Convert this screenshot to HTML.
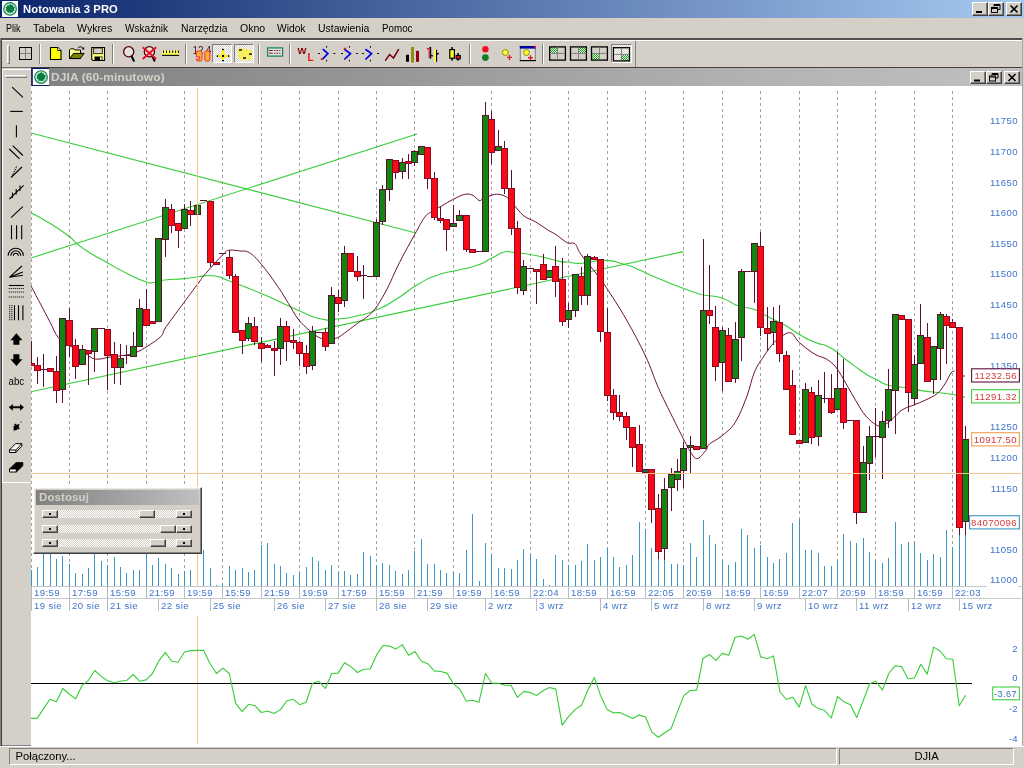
<!DOCTYPE html>
<html lang="pl">
<head>
<meta charset="utf-8">
<title>Notowania 3 PRO</title>
<style>
html,body{margin:0;padding:0;}
body{width:1024px;height:768px;overflow:hidden;background:#d4d0c8;position:relative;font-family:"Liberation Sans",sans-serif;font-size:11px;color:#000;}
.abs{position:absolute;}
#titlebar{left:0;top:0;width:1024px;height:18px;background:linear-gradient(90deg,#0a246a 0%,#a6caf0 100%);}
#titlebar .ttl{position:absolute;left:23px;top:2px;display:inline-block;transform-origin:0 0;transform:scaleX(0.975);color:#fff;font-weight:bold;font-size:11.5px;line-height:14px;white-space:nowrap;letter-spacing:0.1px;}
.wbtn{position:absolute;width:16px;height:14px;background:#d4d0c8;box-sizing:border-box;border:1px solid;border-color:#fff #404040 #404040 #fff;box-shadow:inset -1px -1px 0 #808080;}
#menubar{left:0;top:18px;width:1024px;height:20px;background:#d4d0c8;}
#menubar span{position:absolute;top:3px;display:inline-block;transform-origin:0 0;font-size:11.5px;line-height:14px;white-space:nowrap;}
#tbline1{left:0;top:38px;width:1022px;height:2px;background:#505050;}
#tbline2{left:2px;top:40px;width:1020px;height:1px;background:#fff;}
#toolbar{left:2px;top:41px;width:634px;height:26px;background:#d4d0c8;box-sizing:border-box;border-right:1px solid #808080;}
#tbline3{left:2px;top:67px;width:1020px;height:1.4px;background:#707070;}
.sep{position:absolute;top:44px;width:2px;height:20px;box-sizing:border-box;border-left:1px solid #808080;border-right:1px solid #fff;}
.pressed{position:absolute;top:44px;height:19px;box-sizing:border-box;border:1px solid;border-color:#808080 #fff #fff #808080;background-color:#d4d0c8;background-image:linear-gradient(45deg,#fff 25%,transparent 25%,transparent 75%,#fff 75%),linear-gradient(45deg,#fff 25%,transparent 25%,transparent 75%,#fff 75%);background-size:2px 2px;background-position:0 0,1px 1px;}
#leftedge{left:0;top:38px;width:2px;height:728px;background:#808080;border-right:1px solid #404040;box-sizing:border-box;}
#toolpanel{left:2px;top:68.6px;width:28.6px;height:414.4px;background:#d4d0c8;box-sizing:border-box;border-bottom:1px solid #fff;border-top:1px solid #fff;border-left:1px solid #fff;}
#childtitle{left:31px;top:67px;width:991px;height:19px;background:linear-gradient(90deg,#808080 0%,#9a9a9a 40%,#b4b4b4 75%,#c0c0c0 100%);border-top:1px solid #404040;box-sizing:border-box;}
#childtitle .ttl{position:absolute;left:20.3px;top:2px;display:inline-block;transform-origin:0 0;transform:scaleX(1.04);color:#d4d0c8;font-weight:bold;font-size:11.5px;line-height:14px;white-space:nowrap;letter-spacing:0.1px;}
#chartbg{left:31px;top:86px;width:991px;height:661px;background:#fff;}
#rightedge{left:1022px;top:38px;width:2px;height:710px;background:#d4d0c8;border-left:1px solid #a8a8a8;box-sizing:border-box;}
#statusbar{left:0;top:746px;width:1024px;height:22px;background:#d4d0c8;border-top:1px solid #fff;box-sizing:border-box;}
.sbp{position:absolute;top:0.5px;height:17px;box-sizing:border-box;border:1px solid;border-color:#808080 #fff #fff #808080;font-size:11.2px;line-height:15px;white-space:nowrap;}
#dost{left:33px;top:487px;width:169px;height:67px;background:#d4d0c8;box-sizing:border-box;border:1px solid;border-color:#fff #404040 #404040 #fff;box-shadow:inset -1px -1px 0 #808080, inset 1px 1px 0 #ece9e4;}
#dost .cap{position:absolute;left:2px;top:2px;width:163px;height:15px;background:linear-gradient(90deg,#808080,#c0c0c0);color:#d4d0c8;font-weight:bold;font-size:11.5px;line-height:14px;text-indent:3px;letter-spacing:0.1px;}
.trk{position:absolute;left:24px;width:119px;height:8px;background-color:#d4d0c8;background-image:linear-gradient(45deg,#fff 25%,transparent 25%,transparent 75%,#fff 75%),linear-gradient(45deg,#fff 25%,transparent 25%,transparent 75%,#fff 75%);background-size:2px 2px;background-position:0 0,1px 1px;}
.sb{position:absolute;width:16px;height:8px;background:#d4d0c8;box-sizing:border-box;border:1px solid;border-color:#fff #404040 #404040 #fff;box-shadow:inset -1px -1px 0 #808080;}
.sb i{position:absolute;left:6px;top:2px;width:2px;height:2px;background:#000;}
svg text.ax{font-family:"Liberation Sans",sans-serif;font-size:9.6px;letter-spacing:0.4px;fill:#3f74cc;}
svg text.bx{font-family:"Liberation Sans",sans-serif;}
svg{position:absolute;left:0;top:0;overflow:visible;}
</style>
</head>
<body>
<!-- main title bar -->
<div id="titlebar" class="abs">
  <svg width="19" height="19" viewBox="0 0 19 19" style="left:0;top:0"><rect x="2" y="1" width="16" height="16" fill="#fff"/><circle cx="10.05" cy="8.9" r="6.3" fill="#b8f0d8" stroke="#1c7c4c" stroke-width="1.2"/><path d="M10.3 3.7L11.5 5.3L13.0 5.1L13.0 6.6L15.2 7.5L13.9 9.1L14.5 10.7L12.8 10.9L12.9 12.7L11.2 12.3L10.3 13.2L9.1 12.3L7.5 12.7L7.3 11.0L5.8 10.6L6.3 8.9L5.6 7.1L7.1 6.6L7.3 5.2L8.9 5.4z" fill="#0c7a42"/></svg>
  <span class="ttl">Notowania 3 PRO</span>
  <div class="wbtn" style="left:972px;top:2px"><svg width="14" height="12" viewBox="0 0 14 12"><rect x="3" y="8" width="6" height="2" fill="#000"/></svg></div>
  <div class="wbtn" style="left:988px;top:2px"><svg width="14" height="12" viewBox="0 0 14 12"><path d="M5 1.500h6v5h-2M5 1.500v2M5.500 2.500h5" stroke="#000" stroke-width="1" fill="none"/><rect x="2.500" y="4.500" width="6" height="5" fill="none" stroke="#000"/><path d="M2.500 5.500h6" stroke="#000"/></svg></div>
  <div class="wbtn" style="left:1006px;top:2px"><svg width="14" height="12" viewBox="0 0 14 12"><path d="M3.500 2.500l7 7M10.500 2.500l-7 7" stroke="#000" stroke-width="1.6" fill="none"/></svg></div>
</div>
<!-- menu bar -->
<div id="menubar" class="abs">
  <span style="left:5.5px;transform:scaleX(0.784)">Plik</span><span style="left:32.5px;transform:scaleX(0.938)">Tabela</span><span style="left:76.75px;transform:scaleX(0.923)">Wykres</span><span style="left:125px;transform:scaleX(0.874)">Wskaźnik</span><span style="left:180.5px;transform:scaleX(0.898)">Narzędzia</span><span style="left:239.5px;transform:scaleX(0.918)">Okno</span><span style="left:276.75px;transform:scaleX(0.891)">Widok</span><span style="left:317.75px;transform:scaleX(0.912)">Ustawienia</span><span style="left:381.75px;transform:scaleX(0.852)">Pomoc</span>
</div>
<div id="tbline1" class="abs"></div>
<div id="tbline2" class="abs"></div>
<div id="leftedge" class="abs"></div>
<div id="rightedge" class="abs"></div>
<!-- toolbar -->
<div id="toolbar" class="abs"></div>
<div id="tbline3" class="abs"></div>
<div class="abs" style="left:7px;top:45px;width:3px;height:19px;box-sizing:border-box;border:1px solid;border-color:#fff #808080 #808080 #fff;"></div>
<div class="sep" style="left:39px"></div>
<div class="sep" style="left:112px"></div>
<div class="sep" style="left:185px"></div>
<div class="pressed" style="left:212px;width:20px"></div>
<div class="pressed" style="left:234px;width:20px"></div>
<div class="sep" style="left:258px"></div>
<div class="sep" style="left:289px"></div>
<div class="sep" style="left:469px"></div>
<div class="sep" style="left:542px"></div>
<div class="pressed" style="left:611px;width:21px"></div>
<!-- left tool panel -->
<div id="toolpanel" class="abs"></div>
<div class="abs" style="left:5px;top:75px;width:22px;height:3px;box-sizing:border-box;border:1px solid;border-color:#fff #808080 #808080 #fff;"></div>
<!-- toolbar icons -->
<svg id="tbicons" width="1024" height="768" viewBox="0 0 1024 768" style="pointer-events:none">
<defs>
<pattern id="gd" width="2" height="2" patternUnits="userSpaceOnUse"><rect width="2" height="2" fill="#e8f4e8"/><rect width="1" height="1" fill="#18a018"/><rect x="1" y="1" width="1" height="1" fill="#18a018"/></pattern>
</defs>
<!-- grid icon -->
<rect x="19.500" y="47.500" width="12" height="12" fill="none" stroke="#000" stroke-width="1"/><path d="M25.500 48v11M20 53.500h11" stroke="#808080" stroke-width="1"/>
<!-- new doc -->
<path d="M50.500 47.500h7.200l3.300 3v9h-10.500z" fill="#ffff00" stroke="#000" stroke-width="1.100"/><path d="M57.700 47.500v3h3.300" fill="#fff" stroke="#000" stroke-width="0.900"/>
<!-- open folder -->
<path d="M69.500 58.500v-8.700l1-1h3.500l1 1.200h5.500v8.500z" fill="#ffff90" stroke="#000" stroke-width="1"/>
<path d="M69.700 58.600l3.800-5.200h10.600l-3.800 5.200z" fill="#808000" stroke="#000" stroke-width="1"/>
<path d="M77.800 48.200c1.500-1.900 4-1.900 5.300.3" fill="none" stroke="#000" stroke-width="1"/><path d="M84.200 46.800v2.600h-2.600z" fill="#000"/>
<!-- save -->
<path d="M91.700 47.500h12.800v13h-11.600l-1.200-1.200z" fill="#ffff80" stroke="#000" stroke-width="1.100"/>
<rect x="93.700" y="48" width="8.600" height="5.700" fill="#d4d0c8" stroke="#000" stroke-width="0.800"/>
<rect x="94.500" y="56.500" width="8" height="4" fill="#000"/><rect x="100" y="57.200" width="1.800" height="2.600" fill="#f0f0d0"/>
<!-- magnifier -->
<circle cx="128.700" cy="51.800" r="5.100" fill="#e6e2de" stroke="#500010" stroke-width="1.300"/><path d="M131.600 56.300l2.200 4.500" stroke="#000" stroke-width="2" stroke-linecap="round"/>
<!-- magnifier X -->
<circle cx="149.400" cy="51.800" r="5.100" fill="#e6e2de" stroke="#500010" stroke-width="1.300"/><path d="M152.300 56.300l2.200 4.500" stroke="#000" stroke-width="2" stroke-linecap="round"/>
<path d="M142.700 47.300l13.500 11.600M156.200 47.300l-13.500 11.600" stroke="#e81020" stroke-width="2"/>
<!-- ruler -->
<rect x="162" y="50.500" width="17.200" height="4.500" fill="#ffff60"/><rect x="162" y="54.800" width="17.200" height="1.100" fill="#000"/>
<path d="M163.500 50.500v2.500M166.500 50.500v2.500M169.600 50.500v2.500M172.600 50.500v2.500M175.600 50.500v2.500M178.400 50.500v2.500" stroke="#000" stroke-width="1"/>
<!-- 124/90 -->
<text x="192.600" y="53.600" font-family="Liberation Sans,sans-serif" font-size="10" fill="#501020">1</text><text x="198" y="53.600" font-family="Liberation Sans,sans-serif" font-size="10" fill="#501020">2</text><text x="205.800" y="53.600" font-family="Liberation Sans,sans-serif" font-size="10" fill="#501020">4</text>
<path d="M197.800 51h2.700a1.500 1.500 0 0 1 1.500 1.500v7a1.500 1.500 0 0 1 -1.500 1.500h-2.700a1.500 1.500 0 0 1 -1.500 -1.500v-0.400h3.300v-2.300h-3.300v-4.300a1.500 1.500 0 0 1 1.500 -1.500z" fill="#ffb030" stroke="#f02020" stroke-width="0.900"/>
<rect x="204.800" y="51" width="5" height="10" rx="1.500" fill="#ffb030" stroke="#f02020" stroke-width="0.900"/>
<!-- pressed 1: cross -->
<ellipse cx="223" cy="55.200" rx="1.500" ry="5.800" fill="#ffee10"/><ellipse cx="223" cy="56" rx="5.800" ry="1.500" fill="#ffee10"/><path d="M223 52.500l2.500 3.500-2.500 3-2.500-3z" fill="#ffee10"/>
<rect x="222" y="55" width="2" height="2" fill="#000"/><rect x="222" y="48.800" width="2" height="1.300" fill="#201000"/><rect x="222" y="60" width="2" height="1.300" fill="#201000"/><rect x="216.800" y="55.200" width="1.300" height="1.800" fill="#201000"/><rect x="228" y="55.200" width="1.300" height="1.800" fill="#201000"/>
<!-- pressed 2 -->
<path d="M238 48.500h8l2 1.500h4v4l-1 2 1 1.500v2.500h-12l-1-2-1-3z" fill="#f4f060"/>
<rect x="239" y="49.200" width="3" height="1.500" fill="#301000"/><rect x="249" y="53.300" width="3" height="1.500" fill="#301000"/><rect x="243" y="57.200" width="3" height="1.600" fill="#301000"/>
<!-- table icon -->
<rect x="267.600" y="47.900" width="15" height="8.200" fill="#d8e8e0" stroke="#208060" stroke-width="1.300"/>
<path d="M269 50.500h3.800M274 50.500h1.400M276.400 50.500h1.800M279.200 50.500h1.200M269 53.200h3.800M274 53.200h1.400M276.400 53.200h1.800M279.200 53.200h1.200" stroke="#901020" stroke-width="1"/>
<!-- W L -->
<text x="297.600" y="53.600" font-family="Liberation Sans,sans-serif" font-weight="bold" font-size="9.500" fill="#800000">W</text>
<text x="307.400" y="60.800" font-family="Liberation Sans,sans-serif" font-weight="bold" font-size="10" fill="#f01010">L</text>
<!-- chevrons -->
<g fill="#000"><rect x="326.100" y="46" width="1" height="1.600"/><rect x="326.100" y="59.800" width="1" height="1.600"/><rect x="318" y="53" width="1.800" height="1"/><rect x="333.400" y="53" width="1.800" height="1"/>
<rect x="348.900" y="46" width="1" height="1.600"/><rect x="348.900" y="59.800" width="1" height="1.600"/><rect x="341.200" y="53" width="1.800" height="1"/><rect x="356.200" y="53" width="1.800" height="1"/>
<rect x="370" y="46" width="1" height="1.600"/><rect x="370" y="59.800" width="1" height="1.600"/><rect x="362" y="53" width="1.800" height="1"/><rect x="377.200" y="53" width="1.800" height="1"/></g>
<path d="M322.800 49.200l5.100 4.400-5.100 5.300M344.300 49.200l6.200 4.400-6.200 5.900M365.400 49.200l6.200 4.400-6.200 5.900" fill="none" stroke="#0000e8" stroke-width="1.700"/>
<path d="M320.800 57.400v2.600h3z" fill="#f01010"/><path d="M343.800 50.200v-2.400h3z" fill="#f01010"/>
<!-- zigzag -->
<path d="M385.200 60.600l4.400-6.100 3.900 3.500 5.300-8.800" fill="none" stroke="#700010" stroke-width="1.500"/>
<!-- bars -->
<rect x="406" y="54.800" width="3" height="7" fill="#000"/><rect x="411" y="47" width="3" height="15.500" fill="#909010"/><rect x="416" y="50.900" width="3" height="10.900" fill="#900010"/>
<!-- ohlc -->
<rect x="429.400" y="47" width="1.800" height="11.600" fill="#000"/><rect x="427" y="48" width="2.600" height="1.500" fill="#f01030"/><rect x="428.400" y="49" width="1.200" height="9" fill="#f04050"/><rect x="431" y="55" width="1.800" height="1.500" fill="#000"/>
<rect x="434" y="49.800" width="2" height="12" fill="#ffff40"/><rect x="436" y="49.800" width="1.100" height="12" fill="#000"/><rect x="437" y="53" width="1.800" height="1.500" fill="#000"/>
<!-- candles icon -->
<rect x="451.300" y="47" width="1.600" height="13.700" fill="#000"/><rect x="449.800" y="49.600" width="4.600" height="8.600" fill="#ffff20" stroke="#000" stroke-width="1.200"/>
<rect x="457.300" y="53" width="1.600" height="7.700" fill="#000"/><rect x="456.100" y="55.500" width="4.200" height="3.400" fill="#f01818" stroke="#000" stroke-width="1.100"/>
<!-- traffic light -->
<circle cx="485.400" cy="49.300" r="3.200" fill="#f01020"/><circle cx="485.400" cy="57.600" r="3.400" fill="#108028"/>
<!-- yellow circle plus -->
<circle cx="505.400" cy="52.500" r="2.900" fill="#ffff30" stroke="#808000" stroke-width="0.900"/><path d="M507 57.400h5M509.500 54.900v5" stroke="#e02020" stroke-width="1.400"/>
<!-- window icon -->
<rect x="520.300" y="46.500" width="15" height="14" fill="#e2deda" stroke="#808080" stroke-width="1"/><rect x="519.800" y="46" width="16" height="2.600" fill="#0000a0"/><rect x="519.800" y="60" width="16" height="1.200" fill="#000"/><circle cx="535" cy="46.800" r="1.100" fill="#f01040"/>
<circle cx="526.500" cy="52.500" r="2.900" fill="#ffff30" stroke="#808000" stroke-width="0.900"/><path d="M528 57.700h5M530.500 55.200v5" stroke="#e02020" stroke-width="1.400"/>
<!-- 4 grid icons -->
<rect x="550" y="47" width="7.500" height="6.200" fill="url(#gd)"/><rect x="549.700" y="46.900" width="15.700" height="13.200" fill="none" stroke="#000" stroke-width="1.300"/><path d="M557.500 47.500v12M550.300 53.400h14.500" stroke="#808080" stroke-width="1"/>
<rect x="578.500" y="47" width="7.500" height="6.200" fill="url(#gd)"/><rect x="570.500" y="46.900" width="15.900" height="13.200" fill="none" stroke="#000" stroke-width="1.300"/><path d="M578.500 47.500v12M571.100 53.400h14.700" stroke="#808080" stroke-width="1"/>
<rect x="592" y="53.800" width="7.500" height="6" fill="url(#gd)"/><rect x="591.500" y="46.900" width="15.900" height="13.200" fill="none" stroke="#000" stroke-width="1.300"/><path d="M599.500 47.500v12M592.100 53.400h14.700" stroke="#808080" stroke-width="1"/>
<rect x="621.500" y="54.800" width="8" height="6" fill="url(#gd)"/><rect x="613.400" y="47.700" width="16.100" height="13.200" fill="none" stroke="#000" stroke-width="1.300"/><path d="M621.500 48.300v12M614 54.400h15" stroke="#808080" stroke-width="1"/>
<!-- LEFT TOOL ICONS -->
<g stroke="#000" stroke-width="1.100" fill="none">
<path d="M12.200 87.200l10.700 10.200"/>
<path d="M10.200 111.400h12.700"/>
<path d="M16.400 125.300v12"/>
<path d="M9.300 149l10.200 9.900M12.700 145.700l10.200 9.800"/>
<path d="M11 177.500l11-10.500"/><path d="M12.200 175.300l4.800-9.300" stroke-dasharray="1 1"/>
<path d="M9.300 199l14.400-13.600M12.500 192.500v5.500M16.200 189v5.500M20 185.500v5.500"/>
<path d="M11 217.600l11.900-11"/>
<path d="M11.500 225.300v14M16.600 225.300v14M21.700 225.300v14"/>
<path d="M8.200 255.800a7.600 7.600 0 0 1 15.200 0M10.800 255.800a5 5 0 0 1 10 0M13.300 255.800a2.500 2.500 0 0 1 5 0"/>
<path d="M9.300 277.300l12.700-11.300M9.300 277.300l13.600-5.400M9.300 277.300l13.600-2"/>
<path d="M8.800 285.500h15"/><path d="M8.800 288.500h15M8.800 292h15M8.800 297h15" stroke-dasharray="1 1"/>
<path d="M14.500 305.200v15M18.500 305.200v15M22.900 305.200v15"/><path d="M9.700 305.200v15M11.900 305.200v15" stroke-dasharray="1 1"/>
</g>
<path d="M16.400 333.300l6 7h-3v4.500h-6v-4.500h-3z" fill="#000"/>
<path d="M16.400 365.900l6-6.700h-3v-4.900h-6v4.900h-3z" fill="#000"/>
<text x="8.600" y="385.200" font-family="Liberation Sans,sans-serif" font-size="11.500" fill="#000" textLength="15.600" lengthAdjust="spacingAndGlyphs">abc</text>
<path d="M8.800 407.300l4-3.400v2.400h7.200v-2.400l4 3.400-4 3.400v-2.400h-7.200v2.400z" fill="#000"/>
<path d="M13.600 430.700v-5h1.500l-1-1.200 1.200-1 1.200 1.200 3-.7-.8 3 1 1.200-1 1.200-1.200-1.200v1.500z" fill="#000"/><rect x="20.700" y="421.700" width="1" height="1" fill="#000"/>
<path d="M9.500 450l6-6.300h6.300l-6 6.300zM9.500 450v2.500h6.300v-2.500M15.800 452.500l6-6.300v-2.500" fill="#fff" stroke="#000" stroke-width="1"/>
<path d="M9.500 469l6.500-6.300h6.800l-6.500 6.300zM22.800 462.700v3l-6.500 6.300v-3z" fill="#000" stroke="#000" stroke-width="1"/><path d="M9.500 469v3h6.800v-3z" fill="#fff" stroke="#000" stroke-width="1"/>

</svg>
<!-- child window -->
<div id="childtitle" class="abs">
  <svg width="19" height="19" viewBox="0 0 19 19" style="left:0;top:0"><rect x="0.3" y="0" width="17.9" height="17.900" fill="#0a1060"/><rect x="1.8" y="1" width="16.400" height="16" fill="#fff"/><circle cx="10.03" cy="9.03" r="6.3" fill="#b8f0d8" stroke="#1c7c4c" stroke-width="1.2"/><path d="M10.3 3.8L11.5 5.4L13.0 5.2L13.0 6.8L15.2 7.7L13.9 9.3L14.4 10.8L12.7 11.1L12.9 12.9L11.2 12.4L10.3 13.3L9.1 12.4L7.4 12.9L7.3 11.2L5.7 10.7L6.3 9.0L5.6 7.2L7.1 6.8L7.3 5.3L8.9 5.5z" fill="#0c7a42"/></svg>
  <span class="ttl">DJIA (60-minutowo)</span>
  <div class="wbtn" style="left:939px;top:3px;height:13px"><svg width="14" height="11" viewBox="0 0 14 11"><rect x="3" y="7.500" width="6" height="2" fill="#000"/></svg></div>
  <div class="wbtn" style="left:955px;top:3px;height:13px"><svg width="14" height="11" viewBox="0 0 14 11"><path d="M5 1.500h6v4.500h-2M5 1.500v2M5.500 2.500h5" stroke="#000" stroke-width="1" fill="none"/><rect x="2.500" y="4" width="6" height="5" fill="none" stroke="#000"/><path d="M2.500 5h6" stroke="#000"/></svg></div>
  <div class="wbtn" style="left:973px;top:3px;height:13px"><svg width="14" height="11" viewBox="0 0 14 11"><path d="M3.500 2l7 7M10.500 2l-7 7" stroke="#000" stroke-width="1.600" fill="none"/></svg></div>
</div>
<div id="chartbg" class="abs"></div>
<div class="abs" style="left:2px;top:745px;width:29px;height:1px;background:#808080"></div>
<svg id="chart" width="1024" height="768" viewBox="0 0 1024 768">
<defs><clipPath id="cc"><rect x="31" y="86" width="991" height="661"/></clipPath></defs>
<g clip-path="url(#cc)">
<line x1="31.5" y1="88" x2="31.5" y2="586" stroke="#a2a2a2" stroke-width="1" stroke-dasharray="3 3" stroke-dashoffset="3.400" shape-rendering="crispEdges"/>
<line x1="69.5" y1="88" x2="69.5" y2="586" stroke="#a2a2a2" stroke-width="1" stroke-dasharray="3 3" stroke-dashoffset="3.400" shape-rendering="crispEdges"/>
<line x1="107.5" y1="88" x2="107.5" y2="586" stroke="#a2a2a2" stroke-width="1" stroke-dasharray="3 3" stroke-dashoffset="3.400" shape-rendering="crispEdges"/>
<line x1="146.5" y1="88" x2="146.5" y2="586" stroke="#a2a2a2" stroke-width="1" stroke-dasharray="3 3" stroke-dashoffset="3.400" shape-rendering="crispEdges"/>
<line x1="184.5" y1="88" x2="184.5" y2="586" stroke="#a2a2a2" stroke-width="1" stroke-dasharray="3 3" stroke-dashoffset="3.400" shape-rendering="crispEdges"/>
<line x1="222.5" y1="88" x2="222.5" y2="586" stroke="#a2a2a2" stroke-width="1" stroke-dasharray="3 3" stroke-dashoffset="3.400" shape-rendering="crispEdges"/>
<line x1="261.5" y1="88" x2="261.5" y2="586" stroke="#a2a2a2" stroke-width="1" stroke-dasharray="3 3" stroke-dashoffset="3.400" shape-rendering="crispEdges"/>
<line x1="299.5" y1="88" x2="299.5" y2="586" stroke="#a2a2a2" stroke-width="1" stroke-dasharray="3 3" stroke-dashoffset="3.400" shape-rendering="crispEdges"/>
<line x1="338.5" y1="88" x2="338.5" y2="586" stroke="#a2a2a2" stroke-width="1" stroke-dasharray="3 3" stroke-dashoffset="3.400" shape-rendering="crispEdges"/>
<line x1="376.5" y1="88" x2="376.5" y2="586" stroke="#a2a2a2" stroke-width="1" stroke-dasharray="3 3" stroke-dashoffset="3.400" shape-rendering="crispEdges"/>
<line x1="414.5" y1="88" x2="414.5" y2="586" stroke="#a2a2a2" stroke-width="1" stroke-dasharray="3 3" stroke-dashoffset="3.400" shape-rendering="crispEdges"/>
<line x1="453.5" y1="88" x2="453.5" y2="586" stroke="#a2a2a2" stroke-width="1" stroke-dasharray="3 3" stroke-dashoffset="3.400" shape-rendering="crispEdges"/>
<line x1="491.5" y1="88" x2="491.5" y2="586" stroke="#a2a2a2" stroke-width="1" stroke-dasharray="3 3" stroke-dashoffset="3.400" shape-rendering="crispEdges"/>
<line x1="530.5" y1="88" x2="530.5" y2="586" stroke="#a2a2a2" stroke-width="1" stroke-dasharray="3 3" stroke-dashoffset="3.400" shape-rendering="crispEdges"/>
<line x1="568.5" y1="88" x2="568.5" y2="586" stroke="#a2a2a2" stroke-width="1" stroke-dasharray="3 3" stroke-dashoffset="3.400" shape-rendering="crispEdges"/>
<line x1="607.5" y1="88" x2="607.5" y2="586" stroke="#a2a2a2" stroke-width="1" stroke-dasharray="3 3" stroke-dashoffset="3.400" shape-rendering="crispEdges"/>
<line x1="645.5" y1="88" x2="645.5" y2="586" stroke="#a2a2a2" stroke-width="1" stroke-dasharray="3 3" stroke-dashoffset="3.400" shape-rendering="crispEdges"/>
<line x1="683.5" y1="88" x2="683.5" y2="586" stroke="#a2a2a2" stroke-width="1" stroke-dasharray="3 3" stroke-dashoffset="3.400" shape-rendering="crispEdges"/>
<line x1="722.5" y1="88" x2="722.5" y2="586" stroke="#a2a2a2" stroke-width="1" stroke-dasharray="3 3" stroke-dashoffset="3.400" shape-rendering="crispEdges"/>
<line x1="760.5" y1="88" x2="760.5" y2="586" stroke="#a2a2a2" stroke-width="1" stroke-dasharray="3 3" stroke-dashoffset="3.400" shape-rendering="crispEdges"/>
<line x1="799.5" y1="88" x2="799.5" y2="586" stroke="#a2a2a2" stroke-width="1" stroke-dasharray="3 3" stroke-dashoffset="3.400" shape-rendering="crispEdges"/>
<line x1="837.5" y1="88" x2="837.5" y2="586" stroke="#a2a2a2" stroke-width="1" stroke-dasharray="3 3" stroke-dashoffset="3.400" shape-rendering="crispEdges"/>
<line x1="875.5" y1="88" x2="875.5" y2="586" stroke="#a2a2a2" stroke-width="1" stroke-dasharray="3 3" stroke-dashoffset="3.400" shape-rendering="crispEdges"/>
<line x1="914.5" y1="88" x2="914.5" y2="586" stroke="#a2a2a2" stroke-width="1" stroke-dasharray="3 3" stroke-dashoffset="3.400" shape-rendering="crispEdges"/>
<line x1="952.5" y1="88" x2="952.5" y2="586" stroke="#a2a2a2" stroke-width="1" stroke-dasharray="3 3" stroke-dashoffset="3.400" shape-rendering="crispEdges"/>
<line x1="31.5" y1="586" x2="31.5" y2="570.0" stroke="#3a94c4" stroke-width="1" shape-rendering="crispEdges"/>
<line x1="37.5" y1="586" x2="37.5" y2="566.7" stroke="#3a94c4" stroke-width="1" shape-rendering="crispEdges"/>
<line x1="43.5" y1="586" x2="43.5" y2="548.1" stroke="#3a94c4" stroke-width="1" shape-rendering="crispEdges"/>
<line x1="50.5" y1="586" x2="50.5" y2="549.1" stroke="#3a94c4" stroke-width="1" shape-rendering="crispEdges"/>
<line x1="56.5" y1="586" x2="56.5" y2="558.9" stroke="#3a94c4" stroke-width="1" shape-rendering="crispEdges"/>
<line x1="62.5" y1="586" x2="62.5" y2="555.9" stroke="#3a94c4" stroke-width="1" shape-rendering="crispEdges"/>
<line x1="69.5" y1="586" x2="69.5" y2="564.1" stroke="#3a94c4" stroke-width="1" shape-rendering="crispEdges"/>
<line x1="75.5" y1="586" x2="75.5" y2="572.9" stroke="#3a94c4" stroke-width="1" shape-rendering="crispEdges"/>
<line x1="82.5" y1="586" x2="82.5" y2="574.1" stroke="#3a94c4" stroke-width="1" shape-rendering="crispEdges"/>
<line x1="88.5" y1="586" x2="88.5" y2="567.7" stroke="#3a94c4" stroke-width="1" shape-rendering="crispEdges"/>
<line x1="94.5" y1="586" x2="94.5" y2="548.1" stroke="#3a94c4" stroke-width="1" shape-rendering="crispEdges"/>
<line x1="101.5" y1="586" x2="101.5" y2="560.8" stroke="#3a94c4" stroke-width="1" shape-rendering="crispEdges"/>
<line x1="107.5" y1="586" x2="107.5" y2="564.7" stroke="#3a94c4" stroke-width="1" shape-rendering="crispEdges"/>
<line x1="114.5" y1="586" x2="114.5" y2="556.9" stroke="#3a94c4" stroke-width="1" shape-rendering="crispEdges"/>
<line x1="120.5" y1="586" x2="120.5" y2="566.7" stroke="#3a94c4" stroke-width="1" shape-rendering="crispEdges"/>
<line x1="126.5" y1="586" x2="126.5" y2="572.9" stroke="#3a94c4" stroke-width="1" shape-rendering="crispEdges"/>
<line x1="133.5" y1="586" x2="133.5" y2="569.6" stroke="#3a94c4" stroke-width="1" shape-rendering="crispEdges"/>
<line x1="139.5" y1="586" x2="139.5" y2="569.6" stroke="#3a94c4" stroke-width="1" shape-rendering="crispEdges"/>
<line x1="146.5" y1="586" x2="146.5" y2="547.1" stroke="#3a94c4" stroke-width="1" shape-rendering="crispEdges"/>
<line x1="152.5" y1="586" x2="152.5" y2="565.1" stroke="#3a94c4" stroke-width="1" shape-rendering="crispEdges"/>
<line x1="158.5" y1="586" x2="158.5" y2="557.9" stroke="#3a94c4" stroke-width="1" shape-rendering="crispEdges"/>
<line x1="165.5" y1="586" x2="165.5" y2="563.8" stroke="#3a94c4" stroke-width="1" shape-rendering="crispEdges"/>
<line x1="171.5" y1="586" x2="171.5" y2="567.7" stroke="#3a94c4" stroke-width="1" shape-rendering="crispEdges"/>
<line x1="178.5" y1="586" x2="178.5" y2="574.1" stroke="#3a94c4" stroke-width="1" shape-rendering="crispEdges"/>
<line x1="184.5" y1="586" x2="184.5" y2="571.0" stroke="#3a94c4" stroke-width="1" shape-rendering="crispEdges"/>
<line x1="190.5" y1="586" x2="190.5" y2="570.0" stroke="#3a94c4" stroke-width="1" shape-rendering="crispEdges"/>
<line x1="197.5" y1="586" x2="197.5" y2="552.0" stroke="#3a94c4" stroke-width="1" shape-rendering="crispEdges"/>
<line x1="203.5" y1="586" x2="203.5" y2="550.1" stroke="#3a94c4" stroke-width="1" shape-rendering="crispEdges"/>
<line x1="210.5" y1="586" x2="210.5" y2="567.7" stroke="#3a94c4" stroke-width="1" shape-rendering="crispEdges"/>
<line x1="216.5" y1="586" x2="216.5" y2="585.2" stroke="#3a94c4" stroke-width="1" shape-rendering="crispEdges"/>
<line x1="222.5" y1="586" x2="222.5" y2="583.8" stroke="#3a94c4" stroke-width="1" shape-rendering="crispEdges"/>
<line x1="229.5" y1="586" x2="229.5" y2="566.2" stroke="#3a94c4" stroke-width="1" shape-rendering="crispEdges"/>
<line x1="235.5" y1="586" x2="235.5" y2="570.1" stroke="#3a94c4" stroke-width="1" shape-rendering="crispEdges"/>
<line x1="242.5" y1="586" x2="242.5" y2="568.1" stroke="#3a94c4" stroke-width="1" shape-rendering="crispEdges"/>
<line x1="248.5" y1="586" x2="248.5" y2="572.0" stroke="#3a94c4" stroke-width="1" shape-rendering="crispEdges"/>
<line x1="254.5" y1="586" x2="254.5" y2="570.1" stroke="#3a94c4" stroke-width="1" shape-rendering="crispEdges"/>
<line x1="261.5" y1="586" x2="261.5" y2="545.1" stroke="#3a94c4" stroke-width="1" shape-rendering="crispEdges"/>
<line x1="267.5" y1="586" x2="267.5" y2="543.1" stroke="#3a94c4" stroke-width="1" shape-rendering="crispEdges"/>
<line x1="274.5" y1="586" x2="274.5" y2="564.2" stroke="#3a94c4" stroke-width="1" shape-rendering="crispEdges"/>
<line x1="280.5" y1="586" x2="280.5" y2="566.2" stroke="#3a94c4" stroke-width="1" shape-rendering="crispEdges"/>
<line x1="286.5" y1="586" x2="286.5" y2="573.4" stroke="#3a94c4" stroke-width="1" shape-rendering="crispEdges"/>
<line x1="293.5" y1="586" x2="293.5" y2="575.0" stroke="#3a94c4" stroke-width="1" shape-rendering="crispEdges"/>
<line x1="299.5" y1="586" x2="299.5" y2="572.0" stroke="#3a94c4" stroke-width="1" shape-rendering="crispEdges"/>
<line x1="306.5" y1="586" x2="306.5" y2="567.1" stroke="#3a94c4" stroke-width="1" shape-rendering="crispEdges"/>
<line x1="312.5" y1="586" x2="312.5" y2="557.4" stroke="#3a94c4" stroke-width="1" shape-rendering="crispEdges"/>
<line x1="318.5" y1="586" x2="318.5" y2="561.3" stroke="#3a94c4" stroke-width="1" shape-rendering="crispEdges"/>
<line x1="325.5" y1="586" x2="325.5" y2="570.1" stroke="#3a94c4" stroke-width="1" shape-rendering="crispEdges"/>
<line x1="331.5" y1="586" x2="331.5" y2="565.2" stroke="#3a94c4" stroke-width="1" shape-rendering="crispEdges"/>
<line x1="338.5" y1="586" x2="338.5" y2="572.0" stroke="#3a94c4" stroke-width="1" shape-rendering="crispEdges"/>
<line x1="344.5" y1="586" x2="344.5" y2="571.1" stroke="#3a94c4" stroke-width="1" shape-rendering="crispEdges"/>
<line x1="350.5" y1="586" x2="350.5" y2="575.0" stroke="#3a94c4" stroke-width="1" shape-rendering="crispEdges"/>
<line x1="357.5" y1="586" x2="357.5" y2="574.0" stroke="#3a94c4" stroke-width="1" shape-rendering="crispEdges"/>
<line x1="363.5" y1="586" x2="363.5" y2="552.1" stroke="#3a94c4" stroke-width="1" shape-rendering="crispEdges"/>
<line x1="370.5" y1="586" x2="370.5" y2="556.0" stroke="#3a94c4" stroke-width="1" shape-rendering="crispEdges"/>
<line x1="376.5" y1="586" x2="376.5" y2="565.2" stroke="#3a94c4" stroke-width="1" shape-rendering="crispEdges"/>
<line x1="382.5" y1="586" x2="382.5" y2="563.2" stroke="#3a94c4" stroke-width="1" shape-rendering="crispEdges"/>
<line x1="389.5" y1="586" x2="389.5" y2="565.2" stroke="#3a94c4" stroke-width="1" shape-rendering="crispEdges"/>
<line x1="395.5" y1="586" x2="395.5" y2="571.1" stroke="#3a94c4" stroke-width="1" shape-rendering="crispEdges"/>
<line x1="402.5" y1="586" x2="402.5" y2="574.0" stroke="#3a94c4" stroke-width="1" shape-rendering="crispEdges"/>
<line x1="408.5" y1="586" x2="408.5" y2="570.1" stroke="#3a94c4" stroke-width="1" shape-rendering="crispEdges"/>
<line x1="414.5" y1="586" x2="414.5" y2="550.9" stroke="#3a94c4" stroke-width="1" shape-rendering="crispEdges"/>
<line x1="421.5" y1="586" x2="421.5" y2="539.2" stroke="#3a94c4" stroke-width="1" shape-rendering="crispEdges"/>
<line x1="427.5" y1="586" x2="427.5" y2="564.2" stroke="#3a94c4" stroke-width="1" shape-rendering="crispEdges"/>
<line x1="434.5" y1="586" x2="434.5" y2="564.2" stroke="#3a94c4" stroke-width="1" shape-rendering="crispEdges"/>
<line x1="440.5" y1="586" x2="440.5" y2="570.1" stroke="#3a94c4" stroke-width="1" shape-rendering="crispEdges"/>
<line x1="446.5" y1="586" x2="446.5" y2="573.0" stroke="#3a94c4" stroke-width="1" shape-rendering="crispEdges"/>
<line x1="453.5" y1="586" x2="453.5" y2="572.0" stroke="#3a94c4" stroke-width="1" shape-rendering="crispEdges"/>
<line x1="459.5" y1="586" x2="459.5" y2="573.0" stroke="#3a94c4" stroke-width="1" shape-rendering="crispEdges"/>
<line x1="466.5" y1="586" x2="466.5" y2="550.2" stroke="#3a94c4" stroke-width="1" shape-rendering="crispEdges"/>
<line x1="472.5" y1="586" x2="472.5" y2="513.8" stroke="#3a94c4" stroke-width="1" shape-rendering="crispEdges"/>
<line x1="479.5" y1="586" x2="479.5" y2="580.8" stroke="#3a94c4" stroke-width="1" shape-rendering="crispEdges"/>
<line x1="485.5" y1="586" x2="485.5" y2="543.1" stroke="#3a94c4" stroke-width="1" shape-rendering="crispEdges"/>
<line x1="491.5" y1="586" x2="491.5" y2="554.5" stroke="#3a94c4" stroke-width="1" shape-rendering="crispEdges"/>
<line x1="498.5" y1="586" x2="498.5" y2="568.1" stroke="#3a94c4" stroke-width="1" shape-rendering="crispEdges"/>
<line x1="504.5" y1="586" x2="504.5" y2="568.1" stroke="#3a94c4" stroke-width="1" shape-rendering="crispEdges"/>
<line x1="511.5" y1="586" x2="511.5" y2="569.1" stroke="#3a94c4" stroke-width="1" shape-rendering="crispEdges"/>
<line x1="517.5" y1="586" x2="517.5" y2="560.3" stroke="#3a94c4" stroke-width="1" shape-rendering="crispEdges"/>
<line x1="523.5" y1="586" x2="523.5" y2="549.0" stroke="#3a94c4" stroke-width="1" shape-rendering="crispEdges"/>
<line x1="530.5" y1="586" x2="530.5" y2="553.9" stroke="#3a94c4" stroke-width="1" shape-rendering="crispEdges"/>
<line x1="536.5" y1="586" x2="536.5" y2="558.8" stroke="#3a94c4" stroke-width="1" shape-rendering="crispEdges"/>
<line x1="543.5" y1="586" x2="543.5" y2="578.9" stroke="#3a94c4" stroke-width="1" shape-rendering="crispEdges"/>
<line x1="549.5" y1="586" x2="549.5" y2="585.1" stroke="#3a94c4" stroke-width="1" shape-rendering="crispEdges"/>
<line x1="555.5" y1="586" x2="555.5" y2="554.8" stroke="#3a94c4" stroke-width="1" shape-rendering="crispEdges"/>
<line x1="562.5" y1="586" x2="562.5" y2="559.9" stroke="#3a94c4" stroke-width="1" shape-rendering="crispEdges"/>
<line x1="568.5" y1="586" x2="568.5" y2="565.2" stroke="#3a94c4" stroke-width="1" shape-rendering="crispEdges"/>
<line x1="575.5" y1="586" x2="575.5" y2="565.2" stroke="#3a94c4" stroke-width="1" shape-rendering="crispEdges"/>
<line x1="581.5" y1="586" x2="581.5" y2="561.3" stroke="#3a94c4" stroke-width="1" shape-rendering="crispEdges"/>
<line x1="587.5" y1="586" x2="587.5" y2="544.1" stroke="#3a94c4" stroke-width="1" shape-rendering="crispEdges"/>
<line x1="594.5" y1="586" x2="594.5" y2="559.9" stroke="#3a94c4" stroke-width="1" shape-rendering="crispEdges"/>
<line x1="600.5" y1="586" x2="600.5" y2="557.4" stroke="#3a94c4" stroke-width="1" shape-rendering="crispEdges"/>
<line x1="607.5" y1="586" x2="607.5" y2="548.2" stroke="#3a94c4" stroke-width="1" shape-rendering="crispEdges"/>
<line x1="613.5" y1="586" x2="613.5" y2="557.4" stroke="#3a94c4" stroke-width="1" shape-rendering="crispEdges"/>
<line x1="619.5" y1="586" x2="619.5" y2="567.1" stroke="#3a94c4" stroke-width="1" shape-rendering="crispEdges"/>
<line x1="626.5" y1="586" x2="626.5" y2="565.2" stroke="#3a94c4" stroke-width="1" shape-rendering="crispEdges"/>
<line x1="632.5" y1="586" x2="632.5" y2="555.0" stroke="#3a94c4" stroke-width="1" shape-rendering="crispEdges"/>
<line x1="639.5" y1="586" x2="639.5" y2="522.2" stroke="#3a94c4" stroke-width="1" shape-rendering="crispEdges"/>
<line x1="645.5" y1="586" x2="645.5" y2="529.1" stroke="#3a94c4" stroke-width="1" shape-rendering="crispEdges"/>
<line x1="651.5" y1="586" x2="651.5" y2="548.2" stroke="#3a94c4" stroke-width="1" shape-rendering="crispEdges"/>
<line x1="658.5" y1="586" x2="658.5" y2="552.5" stroke="#3a94c4" stroke-width="1" shape-rendering="crispEdges"/>
<line x1="664.5" y1="586" x2="664.5" y2="559.3" stroke="#3a94c4" stroke-width="1" shape-rendering="crispEdges"/>
<line x1="671.5" y1="586" x2="671.5" y2="564.2" stroke="#3a94c4" stroke-width="1" shape-rendering="crispEdges"/>
<line x1="677.5" y1="586" x2="677.5" y2="564.2" stroke="#3a94c4" stroke-width="1" shape-rendering="crispEdges"/>
<line x1="683.5" y1="586" x2="683.5" y2="565.2" stroke="#3a94c4" stroke-width="1" shape-rendering="crispEdges"/>
<line x1="690.5" y1="586" x2="690.5" y2="543.1" stroke="#3a94c4" stroke-width="1" shape-rendering="crispEdges"/>
<line x1="696.5" y1="586" x2="696.5" y2="557.4" stroke="#3a94c4" stroke-width="1" shape-rendering="crispEdges"/>
<line x1="703.5" y1="586" x2="703.5" y2="520.3" stroke="#3a94c4" stroke-width="1" shape-rendering="crispEdges"/>
<line x1="709.5" y1="586" x2="709.5" y2="535.3" stroke="#3a94c4" stroke-width="1" shape-rendering="crispEdges"/>
<line x1="715.5" y1="586" x2="715.5" y2="544.3" stroke="#3a94c4" stroke-width="1" shape-rendering="crispEdges"/>
<line x1="722.5" y1="586" x2="722.5" y2="559.9" stroke="#3a94c4" stroke-width="1" shape-rendering="crispEdges"/>
<line x1="728.5" y1="586" x2="728.5" y2="565.2" stroke="#3a94c4" stroke-width="1" shape-rendering="crispEdges"/>
<line x1="735.5" y1="586" x2="735.5" y2="562.3" stroke="#3a94c4" stroke-width="1" shape-rendering="crispEdges"/>
<line x1="741.5" y1="586" x2="741.5" y2="528.5" stroke="#3a94c4" stroke-width="1" shape-rendering="crispEdges"/>
<line x1="747.5" y1="586" x2="747.5" y2="535.3" stroke="#3a94c4" stroke-width="1" shape-rendering="crispEdges"/>
<line x1="754.5" y1="586" x2="754.5" y2="548.2" stroke="#3a94c4" stroke-width="1" shape-rendering="crispEdges"/>
<line x1="760.5" y1="586" x2="760.5" y2="545.3" stroke="#3a94c4" stroke-width="1" shape-rendering="crispEdges"/>
<line x1="767.5" y1="586" x2="767.5" y2="557.4" stroke="#3a94c4" stroke-width="1" shape-rendering="crispEdges"/>
<line x1="773.5" y1="586" x2="773.5" y2="563.2" stroke="#3a94c4" stroke-width="1" shape-rendering="crispEdges"/>
<line x1="779.5" y1="586" x2="779.5" y2="559.3" stroke="#3a94c4" stroke-width="1" shape-rendering="crispEdges"/>
<line x1="786.5" y1="586" x2="786.5" y2="553.1" stroke="#3a94c4" stroke-width="1" shape-rendering="crispEdges"/>
<line x1="792.5" y1="586" x2="792.5" y2="523.2" stroke="#3a94c4" stroke-width="1" shape-rendering="crispEdges"/>
<line x1="799.5" y1="586" x2="799.5" y2="519.3" stroke="#3a94c4" stroke-width="1" shape-rendering="crispEdges"/>
<line x1="805.5" y1="586" x2="805.5" y2="550.2" stroke="#3a94c4" stroke-width="1" shape-rendering="crispEdges"/>
<line x1="811.5" y1="586" x2="811.5" y2="550.2" stroke="#3a94c4" stroke-width="1" shape-rendering="crispEdges"/>
<line x1="818.5" y1="586" x2="818.5" y2="553.1" stroke="#3a94c4" stroke-width="1" shape-rendering="crispEdges"/>
<line x1="824.5" y1="586" x2="824.5" y2="566.2" stroke="#3a94c4" stroke-width="1" shape-rendering="crispEdges"/>
<line x1="831.5" y1="586" x2="831.5" y2="566.2" stroke="#3a94c4" stroke-width="1" shape-rendering="crispEdges"/>
<line x1="837.5" y1="586" x2="837.5" y2="559.9" stroke="#3a94c4" stroke-width="1" shape-rendering="crispEdges"/>
<line x1="843.5" y1="586" x2="843.5" y2="534.3" stroke="#3a94c4" stroke-width="1" shape-rendering="crispEdges"/>
<line x1="850.5" y1="586" x2="850.5" y2="541.2" stroke="#3a94c4" stroke-width="1" shape-rendering="crispEdges"/>
<line x1="856.5" y1="586" x2="856.5" y2="543.1" stroke="#3a94c4" stroke-width="1" shape-rendering="crispEdges"/>
<line x1="863.5" y1="586" x2="863.5" y2="538.2" stroke="#3a94c4" stroke-width="1" shape-rendering="crispEdges"/>
<line x1="869.5" y1="586" x2="869.5" y2="552.1" stroke="#3a94c4" stroke-width="1" shape-rendering="crispEdges"/>
<line x1="875.5" y1="586" x2="875.5" y2="559.9" stroke="#3a94c4" stroke-width="1" shape-rendering="crispEdges"/>
<line x1="882.5" y1="586" x2="882.5" y2="563.2" stroke="#3a94c4" stroke-width="1" shape-rendering="crispEdges"/>
<line x1="888.5" y1="586" x2="888.5" y2="558.0" stroke="#3a94c4" stroke-width="1" shape-rendering="crispEdges"/>
<line x1="895.5" y1="586" x2="895.5" y2="522.2" stroke="#3a94c4" stroke-width="1" shape-rendering="crispEdges"/>
<line x1="901.5" y1="586" x2="901.5" y2="544.3" stroke="#3a94c4" stroke-width="1" shape-rendering="crispEdges"/>
<line x1="908.5" y1="586" x2="908.5" y2="542.3" stroke="#3a94c4" stroke-width="1" shape-rendering="crispEdges"/>
<line x1="914.5" y1="586" x2="914.5" y2="542.3" stroke="#3a94c4" stroke-width="1" shape-rendering="crispEdges"/>
<line x1="920.5" y1="586" x2="920.5" y2="553.1" stroke="#3a94c4" stroke-width="1" shape-rendering="crispEdges"/>
<line x1="927.5" y1="586" x2="927.5" y2="559.9" stroke="#3a94c4" stroke-width="1" shape-rendering="crispEdges"/>
<line x1="933.5" y1="586" x2="933.5" y2="554.1" stroke="#3a94c4" stroke-width="1" shape-rendering="crispEdges"/>
<line x1="940.5" y1="586" x2="940.5" y2="557.0" stroke="#3a94c4" stroke-width="1" shape-rendering="crispEdges"/>
<line x1="946.5" y1="586" x2="946.5" y2="530.0" stroke="#3a94c4" stroke-width="1" shape-rendering="crispEdges"/>
<line x1="952.5" y1="586" x2="952.5" y2="547.0" stroke="#3a94c4" stroke-width="1" shape-rendering="crispEdges"/>
<line x1="959.5" y1="586" x2="959.5" y2="533.9" stroke="#3a94c4" stroke-width="1" shape-rendering="crispEdges"/>
<line x1="965.5" y1="586" x2="965.5" y2="522.2" stroke="#3a94c4" stroke-width="1" shape-rendering="crispEdges"/>
<line x1="31" y1="133" x2="416" y2="233" stroke="#38cc38" stroke-width="1.1"/>
<line x1="31" y1="258" x2="417" y2="134" stroke="#38cc38" stroke-width="1.1"/>
<line x1="31" y1="391.7" x2="683.5" y2="251.6" stroke="#38cc38" stroke-width="1.1"/>
<path d="M31.0 212.8C36.5 215.9 35.5 214.7 47.5 222.0C59.5 229.3 57.2 227.5 67.0 234.7C76.8 241.9 69.0 237.3 76.8 243.5C84.6 249.7 80.8 247.0 90.5 253.2C100.2 259.4 94.3 255.5 106.0 262.0C117.7 268.5 112.6 266.3 125.7 272.8C138.8 279.3 136.1 278.4 145.2 281.6C154.3 284.8 146.5 283.0 153.0 282.5C159.5 282.0 154.3 281.3 164.7 280.0C175.1 278.7 173.2 279.7 184.2 278.6C195.3 277.5 190.2 277.7 198.0 276.7C205.8 275.7 200.4 275.6 207.7 275.7C215.0 275.8 213.2 275.4 220.0 277.0C226.8 278.6 214.2 275.1 228.0 280.6C241.8 286.1 238.1 283.7 261.4 293.6C284.7 303.5 277.9 301.7 298.0 310.2C318.1 318.7 308.6 316.1 321.6 319.0C334.6 321.9 325.3 320.0 337.0 319.0C348.7 318.0 343.7 319.0 356.7 316.0C369.7 313.0 363.0 315.5 376.0 310.0C389.0 304.5 381.6 308.2 395.8 299.5C410.0 290.8 404.5 292.2 418.6 284.0C432.7 275.8 425.0 279.6 438.0 275.0C451.0 270.4 444.6 273.4 457.7 270.2C470.8 267.0 465.5 269.5 477.2 265.3C488.9 261.1 483.7 261.9 492.8 257.5C501.9 253.1 497.3 253.6 504.5 252.0C511.7 250.4 503.9 251.4 514.3 252.6C524.7 253.8 520.7 252.6 535.8 255.5C550.9 258.4 549.0 259.2 559.5 261.4C570.0 263.6 559.8 261.4 567.3 262.0C574.8 262.6 569.6 263.8 582.0 263.3C594.4 262.8 590.5 260.1 604.5 260.4C618.5 260.7 612.9 261.4 624.0 264.3C635.1 267.2 626.6 264.6 637.7 269.2C648.8 273.8 644.2 272.5 657.2 278.0C670.2 283.5 663.7 280.8 676.7 285.8C689.7 290.8 686.6 289.8 696.2 293.0C705.9 296.2 697.0 293.6 705.6 295.3C714.2 297.0 711.1 294.6 722.2 298.2C733.3 301.8 728.0 302.3 738.8 306.0C749.6 309.7 744.8 305.8 754.5 309.4C764.2 313.0 758.2 311.7 768.0 316.8C777.8 321.9 773.3 318.7 783.8 324.6C794.2 330.5 789.0 328.5 799.4 334.4C809.8 340.3 804.6 337.7 815.0 342.2C825.4 346.7 820.2 342.1 830.6 348.0C841.0 353.9 835.5 351.8 846.2 359.8C857.0 367.8 852.9 365.3 863.0 372.0C873.1 378.7 867.6 375.2 876.7 379.8C885.8 384.4 880.6 383.1 890.4 385.7C900.2 388.3 895.6 386.1 906.0 387.7C916.4 389.3 911.3 389.0 921.7 390.6C932.1 392.2 926.9 391.2 937.3 392.5C947.7 393.8 943.9 392.9 953.0 394.5C962.1 396.1 960.7 396.4 964.6 397.4" fill="none" stroke="#38cc38" stroke-width="1.1" stroke-linejoin="round"/>
<path d="M31.0 285.9C32.6 289.0 36.5 296.4 40.0 303.0C43.5 309.6 46.6 315.7 50.0 322.0C53.4 328.3 54.6 333.2 58.3 337.6C62.0 342.0 65.2 343.1 70.0 346.0C74.8 348.9 79.9 350.8 84.6 353.2C89.3 355.6 90.7 358.4 95.4 359.1C100.1 359.8 104.4 357.8 110.0 357.1C115.6 356.4 120.9 356.1 125.7 355.2C130.5 354.3 132.5 353.9 136.4 352.3C140.3 350.7 142.6 349.3 147.1 346.4C151.6 343.5 157.6 339.8 160.8 336.6C164.0 333.4 162.6 332.4 164.7 329.0C166.8 325.6 168.9 322.9 172.5 318.0C176.1 313.1 179.3 308.8 184.3 302.0C189.3 295.2 196.3 285.8 199.9 281.0C203.5 276.2 199.5 280.6 203.8 275.7C208.1 270.8 218.5 258.9 223.3 254.2C228.1 249.5 226.7 250.8 229.8 250.2C232.9 249.6 236.4 250.6 240.0 251.0C243.6 251.4 245.4 250.2 249.3 252.6C253.2 255.0 256.0 257.9 261.4 264.3C266.8 270.7 273.7 280.5 278.6 287.7C283.6 294.9 284.8 297.7 288.4 303.4C292.0 309.1 294.2 314.0 298.1 319.0C302.0 324.0 305.5 327.1 309.8 330.7C314.1 334.3 316.9 337.1 321.6 338.5C326.3 339.9 330.9 339.6 335.2 338.5C339.5 337.4 341.1 335.4 345.0 332.7C348.9 330.0 351.7 327.7 356.7 323.9C361.7 320.1 366.9 318.1 372.3 312.1C377.7 306.1 381.0 300.1 386.0 291.0C391.0 281.9 394.2 272.9 399.5 262.5C404.8 252.1 410.1 242.8 414.7 234.5C419.3 226.2 421.5 221.7 424.5 217.5C427.5 213.3 428.1 214.0 431.3 211.8C434.5 209.6 437.9 208.0 442.0 205.7C446.1 203.4 449.5 201.1 453.8 199.0C458.1 196.9 461.9 194.8 465.5 194.2C469.1 193.6 470.8 194.4 473.3 195.6C475.8 196.8 477.4 199.8 479.0 200.5C480.6 201.2 480.4 200.2 482.0 199.5C483.6 198.8 485.3 197.6 488.0 196.6C490.7 195.6 493.3 194.1 496.7 194.2C500.1 194.3 503.3 194.9 506.5 197.0C509.7 199.1 511.1 201.9 514.3 205.4C517.5 208.9 520.1 213.0 524.0 216.0C527.9 219.0 531.5 219.5 535.8 222.0C540.1 224.5 543.7 227.4 547.5 229.8C551.3 232.2 553.0 232.6 556.6 235.0C560.2 237.4 563.9 241.2 567.3 242.8C570.7 244.4 572.5 241.7 575.0 243.8C577.5 245.9 577.0 249.0 581.0 254.5C585.0 260.0 591.9 267.9 596.6 274.0C601.3 280.1 601.0 279.4 606.4 287.7C611.8 295.9 618.8 306.5 626.0 319.0C633.2 331.5 639.8 343.9 645.5 356.0C651.2 368.1 653.5 376.4 657.2 385.0C660.9 393.6 660.4 392.6 665.5 403.0C670.6 413.4 680.5 433.2 685.0 442.0C689.5 450.8 687.8 447.9 690.0 451.0C692.2 454.1 694.0 458.7 696.8 458.7C699.6 458.7 703.2 453.5 705.5 450.8C707.8 448.1 706.7 446.6 709.5 444.0C712.3 441.4 716.3 440.4 721.0 436.5C725.7 432.6 730.3 429.9 735.0 422.7C739.7 415.5 743.0 406.3 746.6 397.0C750.2 387.7 751.3 379.5 754.5 372.0C757.7 364.5 760.4 361.4 764.0 356.0C767.6 350.6 770.4 346.5 774.0 342.6C777.6 338.7 780.5 336.5 783.8 334.8C787.0 333.1 788.7 331.8 791.6 333.2C794.5 334.6 795.1 338.7 799.4 342.6C803.7 346.5 810.0 351.3 815.0 354.3C820.0 357.3 822.8 356.7 826.7 359.2C830.6 361.7 833.0 363.5 836.5 368.0C840.0 372.5 842.4 377.6 846.0 383.6C849.6 389.7 852.4 395.1 856.0 401.0C859.6 406.9 861.9 411.5 865.8 416.0C869.7 420.5 874.1 424.0 877.5 425.6C880.9 427.2 881.8 426.0 884.5 424.8C887.2 423.6 889.2 421.7 892.4 419.0C895.6 416.3 898.1 412.6 902.0 410.0C905.9 407.4 909.5 406.8 913.8 405.0C918.1 403.2 921.3 402.1 925.6 400.0C929.9 397.9 933.7 396.5 937.3 393.5C940.9 390.5 942.5 387.5 945.0 383.8C947.5 380.0 949.3 375.3 951.0 373.0C952.7 370.7 953.9 371.4 954.5 371.0" fill="none" stroke="#701038" stroke-width="1" stroke-linejoin="round"/>
<line x1="962" y1="376" x2="965" y2="376" stroke="#701038" stroke-width="1"/>
<line x1="31.5" y1="340.5" x2="31.5" y2="365.9" stroke="#5e1030" stroke-width="1" shape-rendering="crispEdges"/>
<rect x="28.5" y="363.5" width="6" height="2.0" fill="#fa0a14" stroke="#8a0a28" stroke-width="1"/>
<line x1="37.5" y1="357.1" x2="37.5" y2="383.5" stroke="#5e1030" stroke-width="1" shape-rendering="crispEdges"/>
<rect x="34.5" y="365.5" width="6" height="5.0" fill="#fa0a14" stroke="#8a0a28" stroke-width="1"/>
<line x1="43.5" y1="354.2" x2="43.5" y2="387.4" stroke="#5e1030" stroke-width="1" shape-rendering="crispEdges"/>
<rect x="40.0" y="369.0" width="7" height="1.0" fill="#5e1030"/>
<rect x="47.5" y="368.5" width="6" height="3.0" fill="#fa0a14" stroke="#8a0a28" stroke-width="1"/>
<line x1="56.5" y1="356.2" x2="56.5" y2="402.7" stroke="#5e1030" stroke-width="1" shape-rendering="crispEdges"/>
<rect x="53.5" y="371.5" width="6" height="19.0" fill="#fa0a14" stroke="#8a0a28" stroke-width="1"/>
<line x1="62.5" y1="318.5" x2="62.5" y2="403.4" stroke="#5e1030" stroke-width="1" shape-rendering="crispEdges"/>
<rect x="59.5" y="318.5" width="6" height="71.0" fill="#118611" stroke="#5e1030" stroke-width="1"/>
<line x1="69.5" y1="308.3" x2="69.5" y2="357.1" stroke="#5e1030" stroke-width="1" shape-rendering="crispEdges"/>
<rect x="66.5" y="320.5" width="6" height="25.0" fill="#fa0a14" stroke="#8a0a28" stroke-width="1"/>
<line x1="75.5" y1="338.6" x2="75.5" y2="378.6" stroke="#5e1030" stroke-width="1" shape-rendering="crispEdges"/>
<rect x="72.5" y="345.5" width="6" height="21.0" fill="#fa0a14" stroke="#8a0a28" stroke-width="1"/>
<line x1="82.5" y1="344.5" x2="82.5" y2="364.4" stroke="#5e1030" stroke-width="1" shape-rendering="crispEdges"/>
<rect x="79.5" y="349.5" width="6" height="15.0" fill="#118611" stroke="#5e1030" stroke-width="1"/>
<line x1="88.5" y1="350.3" x2="88.5" y2="384.5" stroke="#5e1030" stroke-width="1" shape-rendering="crispEdges"/>
<rect x="85.5" y="350.5" width="6" height="3.0" fill="#fa0a14" stroke="#8a0a28" stroke-width="1"/>
<line x1="94.5" y1="328.4" x2="94.5" y2="371.8" stroke="#5e1030" stroke-width="1" shape-rendering="crispEdges"/>
<rect x="91.5" y="328.5" width="6" height="23.0" fill="#118611" stroke="#5e1030" stroke-width="1"/>
<line x1="101.5" y1="327.5" x2="101.5" y2="328.8" stroke="#5e1030" stroke-width="1" shape-rendering="crispEdges"/>
<rect x="98.0" y="328.0" width="7" height="1.0" fill="#5e1030"/>
<line x1="107.5" y1="329.4" x2="107.5" y2="390.4" stroke="#5e1030" stroke-width="1" shape-rendering="crispEdges"/>
<rect x="104.5" y="329.5" width="6" height="26.0" fill="#fa0a14" stroke="#8a0a28" stroke-width="1"/>
<line x1="114.5" y1="341.5" x2="114.5" y2="383.5" stroke="#5e1030" stroke-width="1" shape-rendering="crispEdges"/>
<rect x="111.5" y="354.5" width="6" height="13.0" fill="#fa0a14" stroke="#8a0a28" stroke-width="1"/>
<line x1="120.5" y1="343.5" x2="120.5" y2="384.5" stroke="#5e1030" stroke-width="1" shape-rendering="crispEdges"/>
<rect x="117.5" y="358.5" width="6" height="9.0" fill="#118611" stroke="#5e1030" stroke-width="1"/>
<line x1="126.5" y1="344.5" x2="126.5" y2="364.4" stroke="#5e1030" stroke-width="1" shape-rendering="crispEdges"/>
<rect x="123.0" y="355.0" width="7" height="1.0" fill="#5e1030"/>
<line x1="133.5" y1="332.3" x2="133.5" y2="356.2" stroke="#5e1030" stroke-width="1" shape-rendering="crispEdges"/>
<rect x="130.5" y="346.5" width="6" height="10.0" fill="#118611" stroke="#5e1030" stroke-width="1"/>
<line x1="139.5" y1="299.1" x2="139.5" y2="346.4" stroke="#5e1030" stroke-width="1" shape-rendering="crispEdges"/>
<rect x="136.5" y="308.5" width="6" height="38.0" fill="#118611" stroke="#5e1030" stroke-width="1"/>
<line x1="146.5" y1="289.4" x2="146.5" y2="325.3" stroke="#5e1030" stroke-width="1" shape-rendering="crispEdges"/>
<rect x="143.5" y="309.5" width="6" height="16.0" fill="#fa0a14" stroke="#8a0a28" stroke-width="1"/>
<rect x="149.5" y="321.5" width="6" height="2.0" fill="#fa0a14" stroke="#8a0a28" stroke-width="1"/>
<rect x="155.5" y="238.5" width="6" height="83.0" fill="#118611" stroke="#5e1030" stroke-width="1"/>
<line x1="165.5" y1="199.1" x2="165.5" y2="256.6" stroke="#5e1030" stroke-width="1" shape-rendering="crispEdges"/>
<rect x="162.5" y="207.5" width="6" height="32.0" fill="#118611" stroke="#5e1030" stroke-width="1"/>
<line x1="171.5" y1="204.4" x2="171.5" y2="232.7" stroke="#5e1030" stroke-width="1" shape-rendering="crispEdges"/>
<rect x="168.5" y="209.5" width="6" height="16.0" fill="#fa0a14" stroke="#8a0a28" stroke-width="1"/>
<line x1="178.5" y1="223.4" x2="178.5" y2="248.0" stroke="#5e1030" stroke-width="1" shape-rendering="crispEdges"/>
<rect x="175.5" y="223.5" width="6" height="7.0" fill="#fa0a14" stroke="#8a0a28" stroke-width="1"/>
<line x1="184.5" y1="204.4" x2="184.5" y2="228.4" stroke="#5e1030" stroke-width="1" shape-rendering="crispEdges"/>
<rect x="181.5" y="209.5" width="6" height="19.0" fill="#118611" stroke="#5e1030" stroke-width="1"/>
<line x1="190.5" y1="200.5" x2="190.5" y2="225.9" stroke="#5e1030" stroke-width="1" shape-rendering="crispEdges"/>
<rect x="187.5" y="210.5" width="6" height="4.0" fill="#fa0a14" stroke="#8a0a28" stroke-width="1"/>
<line x1="197.5" y1="199.5" x2="197.5" y2="225.9" stroke="#5e1030" stroke-width="1" shape-rendering="crispEdges"/>
<rect x="194.5" y="205.5" width="6" height="9.0" fill="#118611" stroke="#5e1030" stroke-width="1"/>
<line x1="203.5" y1="200.5" x2="203.5" y2="201.1" stroke="#5e1030" stroke-width="1" shape-rendering="crispEdges"/>
<rect x="200.0" y="200.0" width="7" height="1.0" fill="#5e1030"/>
<line x1="210.5" y1="201.1" x2="210.5" y2="266.9" stroke="#5e1030" stroke-width="1" shape-rendering="crispEdges"/>
<rect x="207.5" y="201.5" width="6" height="61.0" fill="#fa0a14" stroke="#8a0a28" stroke-width="1"/>
<line x1="216.5" y1="262.0" x2="216.5" y2="264.6" stroke="#5e1030" stroke-width="1" shape-rendering="crispEdges"/>
<rect x="213.5" y="262.5" width="6" height="2.0" fill="#fa0a14" stroke="#8a0a28" stroke-width="1"/>
<line x1="222.5" y1="253.2" x2="222.5" y2="253.2" stroke="#5e1030" stroke-width="1" shape-rendering="crispEdges"/>
<rect x="219.0" y="253.0" width="7" height="1.0" fill="#5e1030"/>
<line x1="229.5" y1="249.6" x2="229.5" y2="278.9" stroke="#5e1030" stroke-width="1" shape-rendering="crispEdges"/>
<rect x="226.5" y="257.5" width="6" height="18.0" fill="#fa0a14" stroke="#8a0a28" stroke-width="1"/>
<line x1="235.5" y1="274.1" x2="235.5" y2="332.3" stroke="#5e1030" stroke-width="1" shape-rendering="crispEdges"/>
<rect x="232.5" y="276.5" width="6" height="56.0" fill="#fa0a14" stroke="#8a0a28" stroke-width="1"/>
<line x1="242.5" y1="330.3" x2="242.5" y2="353.8" stroke="#5e1030" stroke-width="1" shape-rendering="crispEdges"/>
<rect x="239.5" y="330.5" width="6" height="10.0" fill="#fa0a14" stroke="#8a0a28" stroke-width="1"/>
<line x1="248.5" y1="317.0" x2="248.5" y2="341.4" stroke="#5e1030" stroke-width="1" shape-rendering="crispEdges"/>
<rect x="245.5" y="323.5" width="6" height="15.0" fill="#118611" stroke="#5e1030" stroke-width="1"/>
<line x1="254.5" y1="317.0" x2="254.5" y2="345.4" stroke="#5e1030" stroke-width="1" shape-rendering="crispEdges"/>
<rect x="251.5" y="326.5" width="6" height="15.0" fill="#fa0a14" stroke="#8a0a28" stroke-width="1"/>
<line x1="261.5" y1="336.6" x2="261.5" y2="362.0" stroke="#5e1030" stroke-width="1" shape-rendering="crispEdges"/>
<rect x="258.5" y="343.5" width="6" height="5.0" fill="#fa0a14" stroke="#8a0a28" stroke-width="1"/>
<line x1="267.5" y1="344.4" x2="267.5" y2="348.3" stroke="#5e1030" stroke-width="1" shape-rendering="crispEdges"/>
<rect x="264.5" y="345.5" width="6" height="2.0" fill="#fa0a14" stroke="#8a0a28" stroke-width="1"/>
<line x1="274.5" y1="341.4" x2="274.5" y2="375.6" stroke="#5e1030" stroke-width="1" shape-rendering="crispEdges"/>
<rect x="271.5" y="348.5" width="6" height="2.0" fill="#fa0a14" stroke="#8a0a28" stroke-width="1"/>
<line x1="280.5" y1="318.0" x2="280.5" y2="364.9" stroke="#5e1030" stroke-width="1" shape-rendering="crispEdges"/>
<rect x="277.5" y="326.5" width="6" height="22.0" fill="#118611" stroke="#5e1030" stroke-width="1"/>
<line x1="286.5" y1="320.9" x2="286.5" y2="361.0" stroke="#5e1030" stroke-width="1" shape-rendering="crispEdges"/>
<rect x="283.5" y="326.5" width="6" height="15.0" fill="#fa0a14" stroke="#8a0a28" stroke-width="1"/>
<line x1="293.5" y1="328.8" x2="293.5" y2="349.3" stroke="#5e1030" stroke-width="1" shape-rendering="crispEdges"/>
<rect x="290.5" y="340.5" width="6" height="2.0" fill="#fa0a14" stroke="#8a0a28" stroke-width="1"/>
<line x1="299.5" y1="340.5" x2="299.5" y2="365.9" stroke="#5e1030" stroke-width="1" shape-rendering="crispEdges"/>
<rect x="296.5" y="342.5" width="6" height="11.0" fill="#fa0a14" stroke="#8a0a28" stroke-width="1"/>
<line x1="306.5" y1="345.4" x2="306.5" y2="373.7" stroke="#5e1030" stroke-width="1" shape-rendering="crispEdges"/>
<rect x="303.5" y="353.5" width="6" height="13.0" fill="#fa0a14" stroke="#8a0a28" stroke-width="1"/>
<line x1="312.5" y1="325.8" x2="312.5" y2="369.8" stroke="#5e1030" stroke-width="1" shape-rendering="crispEdges"/>
<rect x="309.5" y="331.5" width="6" height="34.0" fill="#118611" stroke="#5e1030" stroke-width="1"/>
<line x1="318.5" y1="332.3" x2="318.5" y2="332.3" stroke="#5e1030" stroke-width="1" shape-rendering="crispEdges"/>
<rect x="315.0" y="332.0" width="7" height="1.0" fill="#5e1030"/>
<line x1="325.5" y1="327.8" x2="325.5" y2="350.6" stroke="#5e1030" stroke-width="1" shape-rendering="crispEdges"/>
<rect x="322.5" y="332.5" width="6" height="14.0" fill="#fa0a14" stroke="#8a0a28" stroke-width="1"/>
<line x1="331.5" y1="287.3" x2="331.5" y2="343.0" stroke="#5e1030" stroke-width="1" shape-rendering="crispEdges"/>
<rect x="328.5" y="295.5" width="6" height="48.0" fill="#118611" stroke="#5e1030" stroke-width="1"/>
<line x1="338.5" y1="289.7" x2="338.5" y2="311.6" stroke="#5e1030" stroke-width="1" shape-rendering="crispEdges"/>
<rect x="335.5" y="297.5" width="6" height="6.0" fill="#fa0a14" stroke="#8a0a28" stroke-width="1"/>
<line x1="344.5" y1="246.3" x2="344.5" y2="306.9" stroke="#5e1030" stroke-width="1" shape-rendering="crispEdges"/>
<rect x="341.5" y="253.5" width="6" height="47.0" fill="#118611" stroke="#5e1030" stroke-width="1"/>
<line x1="350.5" y1="252.6" x2="350.5" y2="271.5" stroke="#5e1030" stroke-width="1" shape-rendering="crispEdges"/>
<rect x="347.5" y="253.5" width="6" height="18.0" fill="#fa0a14" stroke="#8a0a28" stroke-width="1"/>
<line x1="357.5" y1="256.1" x2="357.5" y2="280.9" stroke="#5e1030" stroke-width="1" shape-rendering="crispEdges"/>
<rect x="354.5" y="271.5" width="6" height="5.0" fill="#fa0a14" stroke="#8a0a28" stroke-width="1"/>
<line x1="363.5" y1="265.3" x2="363.5" y2="298.9" stroke="#5e1030" stroke-width="1" shape-rendering="crispEdges"/>
<rect x="360.0" y="275.0" width="7" height="1.0" fill="#5e1030"/>
<line x1="370.5" y1="276.6" x2="370.5" y2="276.6" stroke="#5e1030" stroke-width="1" shape-rendering="crispEdges"/>
<rect x="367.0" y="276.0" width="7" height="1.0" fill="#5e1030"/>
<line x1="376.5" y1="219.4" x2="376.5" y2="276.1" stroke="#5e1030" stroke-width="1" shape-rendering="crispEdges"/>
<rect x="373.5" y="222.5" width="6" height="54.0" fill="#118611" stroke="#5e1030" stroke-width="1"/>
<line x1="382.5" y1="185.2" x2="382.5" y2="224.9" stroke="#5e1030" stroke-width="1" shape-rendering="crispEdges"/>
<rect x="379.5" y="189.5" width="6" height="32.0" fill="#118611" stroke="#5e1030" stroke-width="1"/>
<line x1="389.5" y1="159.5" x2="389.5" y2="200.5" stroke="#5e1030" stroke-width="1" shape-rendering="crispEdges"/>
<rect x="386.5" y="159.5" width="6" height="30.0" fill="#118611" stroke="#5e1030" stroke-width="1"/>
<line x1="395.5" y1="160.4" x2="395.5" y2="179.0" stroke="#5e1030" stroke-width="1" shape-rendering="crispEdges"/>
<rect x="392.5" y="160.5" width="6" height="12.0" fill="#fa0a14" stroke="#8a0a28" stroke-width="1"/>
<line x1="402.5" y1="157.5" x2="402.5" y2="179.0" stroke="#5e1030" stroke-width="1" shape-rendering="crispEdges"/>
<rect x="399.5" y="162.5" width="6" height="9.0" fill="#118611" stroke="#5e1030" stroke-width="1"/>
<line x1="408.5" y1="154.2" x2="408.5" y2="178.6" stroke="#5e1030" stroke-width="1" shape-rendering="crispEdges"/>
<rect x="405.5" y="161.5" width="6" height="2.0" fill="#fa0a14" stroke="#8a0a28" stroke-width="1"/>
<line x1="414.5" y1="150.1" x2="414.5" y2="166.3" stroke="#5e1030" stroke-width="1" shape-rendering="crispEdges"/>
<rect x="411.5" y="151.5" width="6" height="11.0" fill="#118611" stroke="#5e1030" stroke-width="1"/>
<rect x="418.5" y="146.5" width="6" height="8.0" fill="#118611" stroke="#5e1030" stroke-width="1"/>
<line x1="427.5" y1="147.3" x2="427.5" y2="188.8" stroke="#5e1030" stroke-width="1" shape-rendering="crispEdges"/>
<rect x="424.5" y="147.5" width="6" height="31.0" fill="#fa0a14" stroke="#8a0a28" stroke-width="1"/>
<line x1="434.5" y1="172.1" x2="434.5" y2="220.0" stroke="#5e1030" stroke-width="1" shape-rendering="crispEdges"/>
<rect x="431.5" y="178.5" width="6" height="39.0" fill="#fa0a14" stroke="#8a0a28" stroke-width="1"/>
<line x1="440.5" y1="206.3" x2="440.5" y2="222.9" stroke="#5e1030" stroke-width="1" shape-rendering="crispEdges"/>
<rect x="437.5" y="218.5" width="6" height="2.0" fill="#fa0a14" stroke="#8a0a28" stroke-width="1"/>
<line x1="446.5" y1="219.4" x2="446.5" y2="250.7" stroke="#5e1030" stroke-width="1" shape-rendering="crispEdges"/>
<rect x="443.5" y="219.5" width="6" height="10.0" fill="#fa0a14" stroke="#8a0a28" stroke-width="1"/>
<line x1="453.5" y1="205.2" x2="453.5" y2="226.2" stroke="#5e1030" stroke-width="1" shape-rendering="crispEdges"/>
<rect x="450.5" y="223.5" width="6" height="3.0" fill="#118611" stroke="#5e1030" stroke-width="1"/>
<line x1="459.5" y1="210.2" x2="459.5" y2="221.4" stroke="#5e1030" stroke-width="1" shape-rendering="crispEdges"/>
<rect x="456.5" y="215.5" width="6" height="5.0" fill="#118611" stroke="#5e1030" stroke-width="1"/>
<line x1="466.5" y1="215.5" x2="466.5" y2="251.6" stroke="#5e1030" stroke-width="1" shape-rendering="crispEdges"/>
<rect x="463.5" y="215.5" width="6" height="34.0" fill="#fa0a14" stroke="#8a0a28" stroke-width="1"/>
<rect x="469.5" y="249.5" width="6" height="3.0" fill="#fa0a14" stroke="#8a0a28" stroke-width="1"/>
<line x1="479.5" y1="251.2" x2="479.5" y2="251.2" stroke="#5e1030" stroke-width="1" shape-rendering="crispEdges"/>
<rect x="476.0" y="251.0" width="7" height="1.0" fill="#5e1030"/>
<line x1="485.5" y1="102.4" x2="485.5" y2="251.2" stroke="#5e1030" stroke-width="1" shape-rendering="crispEdges"/>
<rect x="482.5" y="115.5" width="6" height="136.0" fill="#118611" stroke="#5e1030" stroke-width="1"/>
<line x1="491.5" y1="111.0" x2="491.5" y2="163.8" stroke="#5e1030" stroke-width="1" shape-rendering="crispEdges"/>
<rect x="488.5" y="119.5" width="6" height="33.0" fill="#fa0a14" stroke="#8a0a28" stroke-width="1"/>
<line x1="498.5" y1="130.2" x2="498.5" y2="150.3" stroke="#5e1030" stroke-width="1" shape-rendering="crispEdges"/>
<rect x="495.5" y="146.5" width="6" height="4.0" fill="#118611" stroke="#5e1030" stroke-width="1"/>
<line x1="504.5" y1="141.3" x2="504.5" y2="193.6" stroke="#5e1030" stroke-width="1" shape-rendering="crispEdges"/>
<rect x="501.5" y="148.5" width="6" height="40.0" fill="#fa0a14" stroke="#8a0a28" stroke-width="1"/>
<line x1="511.5" y1="170.2" x2="511.5" y2="234.6" stroke="#5e1030" stroke-width="1" shape-rendering="crispEdges"/>
<rect x="508.5" y="188.5" width="6" height="40.0" fill="#fa0a14" stroke="#8a0a28" stroke-width="1"/>
<line x1="517.5" y1="221.4" x2="517.5" y2="293.6" stroke="#5e1030" stroke-width="1" shape-rendering="crispEdges"/>
<rect x="514.5" y="228.5" width="6" height="59.0" fill="#fa0a14" stroke="#8a0a28" stroke-width="1"/>
<line x1="523.5" y1="260.4" x2="523.5" y2="294.6" stroke="#5e1030" stroke-width="1" shape-rendering="crispEdges"/>
<rect x="520.5" y="266.5" width="6" height="24.0" fill="#118611" stroke="#5e1030" stroke-width="1"/>
<line x1="530.5" y1="268.2" x2="530.5" y2="268.2" stroke="#5e1030" stroke-width="1" shape-rendering="crispEdges"/>
<rect x="527.0" y="268.0" width="7" height="1.0" fill="#5e1030"/>
<line x1="536.5" y1="269.2" x2="536.5" y2="304.4" stroke="#5e1030" stroke-width="1" shape-rendering="crispEdges"/>
<rect x="533.5" y="269.5" width="6" height="2.0" fill="#fa0a14" stroke="#8a0a28" stroke-width="1"/>
<line x1="543.5" y1="254.2" x2="543.5" y2="279.4" stroke="#5e1030" stroke-width="1" shape-rendering="crispEdges"/>
<rect x="540.5" y="264.5" width="6" height="15.0" fill="#fa0a14" stroke="#8a0a28" stroke-width="1"/>
<rect x="546.5" y="270.5" width="6" height="7.0" fill="#118611" stroke="#5e1030" stroke-width="1"/>
<line x1="555.5" y1="246.3" x2="555.5" y2="296.5" stroke="#5e1030" stroke-width="1" shape-rendering="crispEdges"/>
<rect x="552.5" y="266.5" width="6" height="15.0" fill="#fa0a14" stroke="#8a0a28" stroke-width="1"/>
<line x1="562.5" y1="258.4" x2="562.5" y2="325.8" stroke="#5e1030" stroke-width="1" shape-rendering="crispEdges"/>
<rect x="559.5" y="279.5" width="6" height="42.0" fill="#fa0a14" stroke="#8a0a28" stroke-width="1"/>
<line x1="568.5" y1="303.4" x2="568.5" y2="328.4" stroke="#5e1030" stroke-width="1" shape-rendering="crispEdges"/>
<rect x="565.5" y="310.5" width="6" height="9.0" fill="#118611" stroke="#5e1030" stroke-width="1"/>
<line x1="575.5" y1="274.6" x2="575.5" y2="317.0" stroke="#5e1030" stroke-width="1" shape-rendering="crispEdges"/>
<rect x="572.5" y="274.5" width="6" height="36.0" fill="#118611" stroke="#5e1030" stroke-width="1"/>
<line x1="581.5" y1="267.2" x2="581.5" y2="305.3" stroke="#5e1030" stroke-width="1" shape-rendering="crispEdges"/>
<rect x="578.5" y="276.5" width="6" height="19.0" fill="#fa0a14" stroke="#8a0a28" stroke-width="1"/>
<line x1="587.5" y1="254.1" x2="587.5" y2="305.3" stroke="#5e1030" stroke-width="1" shape-rendering="crispEdges"/>
<rect x="584.5" y="256.5" width="6" height="39.0" fill="#118611" stroke="#5e1030" stroke-width="1"/>
<line x1="594.5" y1="255.5" x2="594.5" y2="259.4" stroke="#5e1030" stroke-width="1" shape-rendering="crispEdges"/>
<rect x="591.5" y="257.5" width="6" height="2.0" fill="#fa0a14" stroke="#8a0a28" stroke-width="1"/>
<line x1="600.5" y1="259.4" x2="600.5" y2="342.4" stroke="#5e1030" stroke-width="1" shape-rendering="crispEdges"/>
<rect x="597.5" y="259.5" width="6" height="72.0" fill="#fa0a14" stroke="#8a0a28" stroke-width="1"/>
<line x1="607.5" y1="308.2" x2="607.5" y2="401.4" stroke="#5e1030" stroke-width="1" shape-rendering="crispEdges"/>
<rect x="604.5" y="332.5" width="6" height="63.0" fill="#fa0a14" stroke="#8a0a28" stroke-width="1"/>
<line x1="613.5" y1="389.3" x2="613.5" y2="419.6" stroke="#5e1030" stroke-width="1" shape-rendering="crispEdges"/>
<rect x="610.5" y="395.5" width="6" height="17.0" fill="#fa0a14" stroke="#8a0a28" stroke-width="1"/>
<line x1="619.5" y1="395.2" x2="619.5" y2="420.5" stroke="#5e1030" stroke-width="1" shape-rendering="crispEdges"/>
<rect x="616.5" y="412.5" width="6" height="4.0" fill="#fa0a14" stroke="#8a0a28" stroke-width="1"/>
<line x1="626.5" y1="412.3" x2="626.5" y2="439.5" stroke="#5e1030" stroke-width="1" shape-rendering="crispEdges"/>
<rect x="623.5" y="416.5" width="6" height="11.0" fill="#fa0a14" stroke="#8a0a28" stroke-width="1"/>
<line x1="632.5" y1="427.4" x2="632.5" y2="467.4" stroke="#5e1030" stroke-width="1" shape-rendering="crispEdges"/>
<rect x="629.5" y="427.5" width="6" height="20.0" fill="#fa0a14" stroke="#8a0a28" stroke-width="1"/>
<line x1="639.5" y1="425.4" x2="639.5" y2="471.7" stroke="#5e1030" stroke-width="1" shape-rendering="crispEdges"/>
<rect x="636.5" y="444.5" width="6" height="27.0" fill="#fa0a14" stroke="#8a0a28" stroke-width="1"/>
<line x1="645.5" y1="469.4" x2="645.5" y2="472.9" stroke="#5e1030" stroke-width="1" shape-rendering="crispEdges"/>
<rect x="642.5" y="469.5" width="6" height="3.0" fill="#1c6a50" stroke="#5e1030" stroke-width="1"/>
<line x1="651.5" y1="469.8" x2="651.5" y2="522.7" stroke="#5e1030" stroke-width="1" shape-rendering="crispEdges"/>
<rect x="648.5" y="469.5" width="6" height="40.0" fill="#fa0a14" stroke="#8a0a28" stroke-width="1"/>
<line x1="658.5" y1="494.1" x2="658.5" y2="559.4" stroke="#5e1030" stroke-width="1" shape-rendering="crispEdges"/>
<rect x="655.5" y="508.5" width="6" height="43.0" fill="#fa0a14" stroke="#8a0a28" stroke-width="1"/>
<line x1="664.5" y1="478.1" x2="664.5" y2="560.2" stroke="#5e1030" stroke-width="1" shape-rendering="crispEdges"/>
<rect x="661.5" y="489.5" width="6" height="59.0" fill="#118611" stroke="#5e1030" stroke-width="1"/>
<line x1="671.5" y1="468.0" x2="671.5" y2="510.6" stroke="#5e1030" stroke-width="1" shape-rendering="crispEdges"/>
<rect x="668.5" y="474.5" width="6" height="13.0" fill="#118611" stroke="#5e1030" stroke-width="1"/>
<line x1="677.5" y1="459.1" x2="677.5" y2="491.4" stroke="#5e1030" stroke-width="1" shape-rendering="crispEdges"/>
<rect x="674.5" y="471.5" width="6" height="8.0" fill="#118611" stroke="#5e1030" stroke-width="1"/>
<line x1="683.5" y1="442.0" x2="683.5" y2="487.9" stroke="#5e1030" stroke-width="1" shape-rendering="crispEdges"/>
<rect x="680.5" y="448.5" width="6" height="22.0" fill="#118611" stroke="#5e1030" stroke-width="1"/>
<line x1="690.5" y1="436.2" x2="690.5" y2="472.9" stroke="#5e1030" stroke-width="1" shape-rendering="crispEdges"/>
<rect x="687.5" y="445.5" width="6" height="2.0" fill="#118611" stroke="#5e1030" stroke-width="1"/>
<rect x="693.5" y="446.5" width="6" height="3.0" fill="#fa0a14" stroke="#8a0a28" stroke-width="1"/>
<line x1="703.5" y1="239.1" x2="703.5" y2="448.3" stroke="#5e1030" stroke-width="1" shape-rendering="crispEdges"/>
<rect x="700.5" y="310.5" width="6" height="138.0" fill="#118611" stroke="#5e1030" stroke-width="1"/>
<line x1="709.5" y1="265.0" x2="709.5" y2="323.6" stroke="#5e1030" stroke-width="1" shape-rendering="crispEdges"/>
<rect x="706.5" y="310.5" width="6" height="5.0" fill="#fa0a14" stroke="#8a0a28" stroke-width="1"/>
<line x1="715.5" y1="305.5" x2="715.5" y2="380.7" stroke="#5e1030" stroke-width="1" shape-rendering="crispEdges"/>
<rect x="712.5" y="327.5" width="6" height="39.0" fill="#fa0a14" stroke="#8a0a28" stroke-width="1"/>
<line x1="722.5" y1="326.6" x2="722.5" y2="391.4" stroke="#5e1030" stroke-width="1" shape-rendering="crispEdges"/>
<rect x="719.5" y="330.5" width="6" height="32.0" fill="#118611" stroke="#5e1030" stroke-width="1"/>
<line x1="728.5" y1="327.5" x2="728.5" y2="381.6" stroke="#5e1030" stroke-width="1" shape-rendering="crispEdges"/>
<rect x="725.5" y="335.5" width="6" height="46.0" fill="#fa0a14" stroke="#8a0a28" stroke-width="1"/>
<line x1="735.5" y1="322.1" x2="735.5" y2="382.6" stroke="#5e1030" stroke-width="1" shape-rendering="crispEdges"/>
<rect x="732.5" y="339.5" width="6" height="39.0" fill="#118611" stroke="#5e1030" stroke-width="1"/>
<line x1="741.5" y1="268.9" x2="741.5" y2="360.7" stroke="#5e1030" stroke-width="1" shape-rendering="crispEdges"/>
<rect x="738.5" y="271.5" width="6" height="66.0" fill="#118611" stroke="#5e1030" stroke-width="1"/>
<line x1="747.5" y1="271.1" x2="747.5" y2="271.9" stroke="#5e1030" stroke-width="1" shape-rendering="crispEdges"/>
<rect x="744.0" y="271.0" width="7" height="1.0" fill="#5e1030"/>
<line x1="754.5" y1="243.6" x2="754.5" y2="302.7" stroke="#5e1030" stroke-width="1" shape-rendering="crispEdges"/>
<rect x="751.5" y="243.5" width="6" height="28.0" fill="#118611" stroke="#5e1030" stroke-width="1"/>
<line x1="760.5" y1="232.4" x2="760.5" y2="336.3" stroke="#5e1030" stroke-width="1" shape-rendering="crispEdges"/>
<rect x="757.5" y="246.5" width="6" height="81.0" fill="#fa0a14" stroke="#8a0a28" stroke-width="1"/>
<line x1="767.5" y1="307.0" x2="767.5" y2="351.0" stroke="#5e1030" stroke-width="1" shape-rendering="crispEdges"/>
<rect x="764.5" y="328.5" width="6" height="5.0" fill="#fa0a14" stroke="#8a0a28" stroke-width="1"/>
<line x1="773.5" y1="307.0" x2="773.5" y2="345.1" stroke="#5e1030" stroke-width="1" shape-rendering="crispEdges"/>
<rect x="770.5" y="321.5" width="6" height="11.0" fill="#118611" stroke="#5e1030" stroke-width="1"/>
<line x1="779.5" y1="305.1" x2="779.5" y2="361.7" stroke="#5e1030" stroke-width="1" shape-rendering="crispEdges"/>
<rect x="776.5" y="322.5" width="6" height="31.0" fill="#fa0a14" stroke="#8a0a28" stroke-width="1"/>
<line x1="786.5" y1="351.4" x2="786.5" y2="389.5" stroke="#5e1030" stroke-width="1" shape-rendering="crispEdges"/>
<rect x="783.5" y="355.5" width="6" height="34.0" fill="#fa0a14" stroke="#8a0a28" stroke-width="1"/>
<line x1="792.5" y1="370.3" x2="792.5" y2="434.4" stroke="#5e1030" stroke-width="1" shape-rendering="crispEdges"/>
<rect x="789.5" y="385.5" width="6" height="49.0" fill="#fa0a14" stroke="#8a0a28" stroke-width="1"/>
<rect x="796.5" y="440.5" width="6" height="3.0" fill="#fa0a14" stroke="#8a0a28" stroke-width="1"/>
<line x1="805.5" y1="383.2" x2="805.5" y2="442.2" stroke="#5e1030" stroke-width="1" shape-rendering="crispEdges"/>
<rect x="802.5" y="389.5" width="6" height="53.0" fill="#118611" stroke="#5e1030" stroke-width="1"/>
<line x1="811.5" y1="386.5" x2="811.5" y2="443.8" stroke="#5e1030" stroke-width="1" shape-rendering="crispEdges"/>
<rect x="808.5" y="392.5" width="6" height="45.0" fill="#fa0a14" stroke="#8a0a28" stroke-width="1"/>
<line x1="818.5" y1="380.1" x2="818.5" y2="445.5" stroke="#5e1030" stroke-width="1" shape-rendering="crispEdges"/>
<rect x="815.5" y="395.5" width="6" height="41.0" fill="#118611" stroke="#5e1030" stroke-width="1"/>
<line x1="824.5" y1="372.3" x2="824.5" y2="402.5" stroke="#5e1030" stroke-width="1" shape-rendering="crispEdges"/>
<rect x="821.0" y="398.0" width="7" height="1.0" fill="#5e1030"/>
<line x1="831.5" y1="374.2" x2="831.5" y2="413.9" stroke="#5e1030" stroke-width="1" shape-rendering="crispEdges"/>
<rect x="828.5" y="398.5" width="6" height="14.0" fill="#fa0a14" stroke="#8a0a28" stroke-width="1"/>
<line x1="837.5" y1="352.3" x2="837.5" y2="410.0" stroke="#5e1030" stroke-width="1" shape-rendering="crispEdges"/>
<rect x="834.5" y="388.5" width="6" height="21.0" fill="#118611" stroke="#5e1030" stroke-width="1"/>
<line x1="843.5" y1="358.6" x2="843.5" y2="428.5" stroke="#5e1030" stroke-width="1" shape-rendering="crispEdges"/>
<rect x="840.5" y="388.5" width="6" height="34.0" fill="#fa0a14" stroke="#8a0a28" stroke-width="1"/>
<line x1="850.5" y1="420.1" x2="850.5" y2="421.1" stroke="#5e1030" stroke-width="1" shape-rendering="crispEdges"/>
<rect x="847.0" y="420.0" width="7" height="1.0" fill="#5e1030"/>
<line x1="856.5" y1="420.7" x2="856.5" y2="524.0" stroke="#5e1030" stroke-width="1" shape-rendering="crispEdges"/>
<rect x="853.5" y="420.5" width="6" height="92.0" fill="#fa0a14" stroke="#8a0a28" stroke-width="1"/>
<line x1="863.5" y1="446.3" x2="863.5" y2="512.3" stroke="#5e1030" stroke-width="1" shape-rendering="crispEdges"/>
<rect x="860.5" y="462.5" width="6" height="50.0" fill="#118611" stroke="#5e1030" stroke-width="1"/>
<line x1="869.5" y1="426.4" x2="869.5" y2="479.7" stroke="#5e1030" stroke-width="1" shape-rendering="crispEdges"/>
<rect x="866.5" y="436.5" width="6" height="27.0" fill="#118611" stroke="#5e1030" stroke-width="1"/>
<line x1="875.5" y1="407.8" x2="875.5" y2="456.6" stroke="#5e1030" stroke-width="1" shape-rendering="crispEdges"/>
<rect x="872.0" y="436.0" width="7" height="1.0" fill="#5e1030"/>
<line x1="882.5" y1="411.1" x2="882.5" y2="478.7" stroke="#5e1030" stroke-width="1" shape-rendering="crispEdges"/>
<rect x="879.5" y="421.5" width="6" height="16.0" fill="#118611" stroke="#5e1030" stroke-width="1"/>
<line x1="888.5" y1="369.1" x2="888.5" y2="427.7" stroke="#5e1030" stroke-width="1" shape-rendering="crispEdges"/>
<rect x="885.5" y="389.5" width="6" height="31.0" fill="#118611" stroke="#5e1030" stroke-width="1"/>
<line x1="895.5" y1="314.4" x2="895.5" y2="433.6" stroke="#5e1030" stroke-width="1" shape-rendering="crispEdges"/>
<rect x="892.5" y="314.5" width="6" height="76.0" fill="#118611" stroke="#5e1030" stroke-width="1"/>
<line x1="901.5" y1="315.0" x2="901.5" y2="319.3" stroke="#5e1030" stroke-width="1" shape-rendering="crispEdges"/>
<rect x="898.5" y="315.5" width="6" height="4.0" fill="#fa0a14" stroke="#8a0a28" stroke-width="1"/>
<line x1="908.5" y1="319.3" x2="908.5" y2="412.1" stroke="#5e1030" stroke-width="1" shape-rendering="crispEdges"/>
<rect x="905.5" y="319.5" width="6" height="73.0" fill="#fa0a14" stroke="#8a0a28" stroke-width="1"/>
<line x1="914.5" y1="354.5" x2="914.5" y2="405.2" stroke="#5e1030" stroke-width="1" shape-rendering="crispEdges"/>
<rect x="911.5" y="364.5" width="6" height="34.0" fill="#118611" stroke="#5e1030" stroke-width="1"/>
<line x1="920.5" y1="304.1" x2="920.5" y2="363.6" stroke="#5e1030" stroke-width="1" shape-rendering="crispEdges"/>
<rect x="917.5" y="335.5" width="6" height="28.0" fill="#118611" stroke="#5e1030" stroke-width="1"/>
<line x1="927.5" y1="323.2" x2="927.5" y2="381.4" stroke="#5e1030" stroke-width="1" shape-rendering="crispEdges"/>
<rect x="924.5" y="337.5" width="6" height="44.0" fill="#fa0a14" stroke="#8a0a28" stroke-width="1"/>
<line x1="933.5" y1="346.6" x2="933.5" y2="393.5" stroke="#5e1030" stroke-width="1" shape-rendering="crispEdges"/>
<rect x="930.5" y="346.5" width="6" height="33.0" fill="#118611" stroke="#5e1030" stroke-width="1"/>
<line x1="940.5" y1="312.1" x2="940.5" y2="379.8" stroke="#5e1030" stroke-width="1" shape-rendering="crispEdges"/>
<rect x="937.5" y="314.5" width="6" height="34.0" fill="#118611" stroke="#5e1030" stroke-width="1"/>
<line x1="946.5" y1="314.0" x2="946.5" y2="363.8" stroke="#5e1030" stroke-width="1" shape-rendering="crispEdges"/>
<rect x="943.5" y="316.5" width="6" height="9.0" fill="#fa0a14" stroke="#8a0a28" stroke-width="1"/>
<line x1="952.5" y1="319.3" x2="952.5" y2="327.1" stroke="#5e1030" stroke-width="1" shape-rendering="crispEdges"/>
<rect x="949.5" y="322.5" width="6" height="5.0" fill="#fa0a14" stroke="#8a0a28" stroke-width="1"/>
<line x1="959.5" y1="327.1" x2="959.5" y2="534.8" stroke="#5e1030" stroke-width="1" shape-rendering="crispEdges"/>
<rect x="956.5" y="327.5" width="6" height="200.0" fill="#fa0a14" stroke="#8a0a28" stroke-width="1"/>
<line x1="965.5" y1="426.4" x2="965.5" y2="534.8" stroke="#5e1030" stroke-width="1" shape-rendering="crispEdges"/>
<rect x="962.5" y="439.5" width="6" height="82.0" fill="#118611" stroke="#5e1030" stroke-width="1"/>
<line x1="197.5" y1="88" x2="197.5" y2="586" stroke="#f5c48a" stroke-width="1"/>
<line x1="197.5" y1="616" x2="197.5" y2="744" stroke="#f5c48a" stroke-width="1"/>
<line x1="31" y1="473.5" x2="1021" y2="473.5" stroke="#f5c48a" stroke-width="1"/>
<line x1="31" y1="586.5" x2="987" y2="586.5" stroke="#c4c8cc" stroke-width="1"/>
<line x1="1018.5" y1="586.5" x2="1022" y2="586.5" stroke="#c4c8cc" stroke-width="1"/>
<line x1="31" y1="598.5" x2="1022" y2="598.5" stroke="#c4c8cc" stroke-width="1"/>
<line x1="31.5" y1="586" x2="31.5" y2="598" stroke="#b8bcc0" stroke-width="1"/>
<text x="34.0" y="596" class="ax">19:59</text>
<line x1="69.5" y1="586" x2="69.5" y2="598" stroke="#b8bcc0" stroke-width="1"/>
<text x="72.0" y="596" class="ax">17:59</text>
<line x1="107.5" y1="586" x2="107.5" y2="598" stroke="#b8bcc0" stroke-width="1"/>
<text x="110.0" y="596" class="ax">15:59</text>
<line x1="146.5" y1="586" x2="146.5" y2="598" stroke="#b8bcc0" stroke-width="1"/>
<text x="149.0" y="596" class="ax">21:59</text>
<line x1="184.5" y1="586" x2="184.5" y2="598" stroke="#b8bcc0" stroke-width="1"/>
<text x="187.0" y="596" class="ax">19:59</text>
<line x1="222.5" y1="586" x2="222.5" y2="598" stroke="#b8bcc0" stroke-width="1"/>
<text x="225.0" y="596" class="ax">15:59</text>
<line x1="261.5" y1="586" x2="261.5" y2="598" stroke="#b8bcc0" stroke-width="1"/>
<text x="264.0" y="596" class="ax">21:59</text>
<line x1="299.5" y1="586" x2="299.5" y2="598" stroke="#b8bcc0" stroke-width="1"/>
<text x="302.0" y="596" class="ax">19:59</text>
<line x1="338.5" y1="586" x2="338.5" y2="598" stroke="#b8bcc0" stroke-width="1"/>
<text x="341.0" y="596" class="ax">17:59</text>
<line x1="376.5" y1="586" x2="376.5" y2="598" stroke="#b8bcc0" stroke-width="1"/>
<text x="379.0" y="596" class="ax">15:59</text>
<line x1="414.5" y1="586" x2="414.5" y2="598" stroke="#b8bcc0" stroke-width="1"/>
<text x="417.0" y="596" class="ax">21:59</text>
<line x1="453.5" y1="586" x2="453.5" y2="598" stroke="#b8bcc0" stroke-width="1"/>
<text x="456.0" y="596" class="ax">19:59</text>
<line x1="491.5" y1="586" x2="491.5" y2="598" stroke="#b8bcc0" stroke-width="1"/>
<text x="494.0" y="596" class="ax">16:59</text>
<line x1="530.5" y1="586" x2="530.5" y2="598" stroke="#b8bcc0" stroke-width="1"/>
<text x="533.0" y="596" class="ax">22:04</text>
<line x1="568.5" y1="586" x2="568.5" y2="598" stroke="#b8bcc0" stroke-width="1"/>
<text x="571.0" y="596" class="ax">18:59</text>
<line x1="607.5" y1="586" x2="607.5" y2="598" stroke="#b8bcc0" stroke-width="1"/>
<text x="610.0" y="596" class="ax">16:59</text>
<line x1="645.5" y1="586" x2="645.5" y2="598" stroke="#b8bcc0" stroke-width="1"/>
<text x="648.0" y="596" class="ax">22:05</text>
<line x1="683.5" y1="586" x2="683.5" y2="598" stroke="#b8bcc0" stroke-width="1"/>
<text x="686.0" y="596" class="ax">20:59</text>
<line x1="722.5" y1="586" x2="722.5" y2="598" stroke="#b8bcc0" stroke-width="1"/>
<text x="725.0" y="596" class="ax">18:59</text>
<line x1="760.5" y1="586" x2="760.5" y2="598" stroke="#b8bcc0" stroke-width="1"/>
<text x="763.0" y="596" class="ax">16:59</text>
<line x1="799.5" y1="586" x2="799.5" y2="598" stroke="#b8bcc0" stroke-width="1"/>
<text x="802.0" y="596" class="ax">22:07</text>
<line x1="837.5" y1="586" x2="837.5" y2="598" stroke="#b8bcc0" stroke-width="1"/>
<text x="840.0" y="596" class="ax">20:59</text>
<line x1="875.5" y1="586" x2="875.5" y2="598" stroke="#b8bcc0" stroke-width="1"/>
<text x="878.0" y="596" class="ax">18:59</text>
<line x1="914.5" y1="586" x2="914.5" y2="598" stroke="#b8bcc0" stroke-width="1"/>
<text x="917.0" y="596" class="ax">16:59</text>
<line x1="952.5" y1="586" x2="952.5" y2="598" stroke="#b8bcc0" stroke-width="1"/>
<text x="955.0" y="596" class="ax">22:03</text>
<line x1="31.5" y1="598" x2="31.5" y2="611" stroke="#b8bcc0" stroke-width="1"/>
<text x="34.0" y="608.8" class="ax">19 sie</text>
<line x1="69.5" y1="598" x2="69.5" y2="611" stroke="#b8bcc0" stroke-width="1"/>
<text x="72.0" y="608.8" class="ax">20 sie</text>
<line x1="107.5" y1="598" x2="107.5" y2="611" stroke="#b8bcc0" stroke-width="1"/>
<text x="110.0" y="608.8" class="ax">21 sie</text>
<line x1="158.5" y1="598" x2="158.5" y2="611" stroke="#b8bcc0" stroke-width="1"/>
<text x="161.0" y="608.8" class="ax">22 sie</text>
<line x1="210.5" y1="598" x2="210.5" y2="611" stroke="#b8bcc0" stroke-width="1"/>
<text x="213.0" y="608.8" class="ax">25 sie</text>
<line x1="274.5" y1="598" x2="274.5" y2="611" stroke="#b8bcc0" stroke-width="1"/>
<text x="277.0" y="608.8" class="ax">26 sie</text>
<line x1="325.5" y1="598" x2="325.5" y2="611" stroke="#b8bcc0" stroke-width="1"/>
<text x="328.0" y="608.8" class="ax">27 sie</text>
<line x1="376.5" y1="598" x2="376.5" y2="611" stroke="#b8bcc0" stroke-width="1"/>
<text x="379.0" y="608.8" class="ax">28 sie</text>
<line x1="427.5" y1="598" x2="427.5" y2="611" stroke="#b8bcc0" stroke-width="1"/>
<text x="430.0" y="608.8" class="ax">29 sie</text>
<line x1="485.5" y1="598" x2="485.5" y2="611" stroke="#b8bcc0" stroke-width="1"/>
<text x="488.0" y="608.8" class="ax">2 wrz</text>
<line x1="536.5" y1="598" x2="536.5" y2="611" stroke="#b8bcc0" stroke-width="1"/>
<text x="539.0" y="608.8" class="ax">3 wrz</text>
<line x1="600.5" y1="598" x2="600.5" y2="611" stroke="#b8bcc0" stroke-width="1"/>
<text x="603.0" y="608.8" class="ax">4 wrz</text>
<line x1="651.5" y1="598" x2="651.5" y2="611" stroke="#b8bcc0" stroke-width="1"/>
<text x="654.0" y="608.8" class="ax">5 wrz</text>
<line x1="703.5" y1="598" x2="703.5" y2="611" stroke="#b8bcc0" stroke-width="1"/>
<text x="706.0" y="608.8" class="ax">8 wrz</text>
<line x1="754.5" y1="598" x2="754.5" y2="611" stroke="#b8bcc0" stroke-width="1"/>
<text x="757.0" y="608.8" class="ax">9 wrz</text>
<line x1="805.5" y1="598" x2="805.5" y2="611" stroke="#b8bcc0" stroke-width="1"/>
<text x="808.0" y="608.8" class="ax">10 wrz</text>
<line x1="856.5" y1="598" x2="856.5" y2="611" stroke="#b8bcc0" stroke-width="1"/>
<text x="859.0" y="608.8" class="ax">11 wrz</text>
<line x1="908.5" y1="598" x2="908.5" y2="611" stroke="#b8bcc0" stroke-width="1"/>
<text x="911.0" y="608.8" class="ax">12 wrz</text>
<line x1="959.5" y1="598" x2="959.5" y2="611" stroke="#b8bcc0" stroke-width="1"/>
<text x="962.0" y="608.8" class="ax">15 wrz</text>
<text x="1018" y="124.4" class="ax" text-anchor="end">11750</text>
<text x="1018" y="155.0" class="ax" text-anchor="end">11700</text>
<text x="1018" y="185.6" class="ax" text-anchor="end">11650</text>
<text x="1018" y="216.2" class="ax" text-anchor="end">11600</text>
<text x="1018" y="246.8" class="ax" text-anchor="end">11550</text>
<text x="1018" y="277.4" class="ax" text-anchor="end">11500</text>
<text x="1018" y="308.0" class="ax" text-anchor="end">11450</text>
<text x="1018" y="338.6" class="ax" text-anchor="end">11400</text>
<text x="1018" y="369.2" class="ax" text-anchor="end">11350</text>
<text x="1018" y="399.8" class="ax" text-anchor="end">11300</text>
<text x="1018" y="430.4" class="ax" text-anchor="end">11250</text>
<text x="1018" y="461.0" class="ax" text-anchor="end">11200</text>
<text x="1018" y="491.6" class="ax" text-anchor="end">11150</text>
<text x="1018" y="522.2" class="ax" text-anchor="end">11100</text>
<text x="1018" y="552.8" class="ax" text-anchor="end">11050</text>
<text x="1018" y="583.4" class="ax" text-anchor="end">11000</text>
<line x1="31" y1="683.5" x2="972" y2="683.5" stroke="#000" stroke-width="1"/>
<polyline points="30.8,718.4 37.2,718.4 43.6,708.6 50.0,699.3 56.4,701.8 62.8,688.5 69.2,694.0 75.6,698.9 82.0,685.6 88.4,680.3 94.8,670.5 101.2,676.4 107.6,680.7 114.0,682.7 120.4,681.3 126.8,680.3 133.2,674.5 139.7,681.3 146.1,679.9 152.5,673.5 158.9,660.8 165.3,652.4 171.7,661.2 178.1,662.3 184.5,652.0 190.9,650.6 197.3,650.4 203.7,650.4 210.1,663.7 216.5,673.5 222.9,668.2 229.3,673.5 235.7,703.4 242.1,711.6 248.5,704.3 254.9,705.7 261.3,712.5 267.7,711.0 274.1,713.5 280.5,709.6 286.9,700.8 293.3,699.3 299.7,704.7 306.1,702.2 312.5,683.2 318.9,681.3 325.3,688.5 331.7,673.5 338.1,673.1 344.5,662.7 350.9,666.6 357.4,672.5 363.8,669.2 370.2,669.0 376.6,654.9 383.0,645.5 389.4,646.1 395.8,649.1 402.2,644.6 408.6,655.3 415.0,651.6 421.4,661.2 427.8,663.7 434.2,670.9 440.6,671.5 447.0,673.1 453.4,683.8 459.8,689.1 466.2,701.2 472.6,700.2 479.0,702.2 485.4,673.5 491.8,683.2 498.2,683.2 504.6,685.2 511.0,685.2 517.4,697.3 523.8,691.4 530.2,692.6 536.6,695.4 543.0,690.7 549.4,687.5 555.8,689.1 562.2,725.2 568.7,716.4 575.1,709.6 581.5,705.3 587.9,690.1 594.3,677.4 600.7,695.9 607.1,709.6 613.5,712.9 619.9,712.5 626.3,715.5 632.7,718.4 639.1,715.1 645.5,717.0 651.9,732.1 658.3,737.3 664.7,732.7 671.1,728.8 677.5,711.6 683.9,695.4 690.3,690.5 696.7,690.1 703.1,658.2 709.5,654.5 715.9,660.4 722.3,653.4 728.7,655.3 735.1,637.3 741.5,636.0 747.9,639.3 754.3,634.4 760.7,656.9 767.1,658.8 773.5,655.9 780.0,692.0 786.4,699.5 792.8,697.3 799.2,707.1 805.6,685.6 812.0,704.3 818.4,708.6 824.8,710.6 831.2,718.0 837.6,696.5 844.0,701.8 850.4,704.7 856.8,717.4 863.2,700.8 869.6,683.8 876.0,681.3 882.4,690.1 888.8,673.5 895.2,665.7 901.6,666.6 908.0,678.8 914.4,678.0 920.8,664.3 927.2,674.1 933.6,647.1 940.0,651.0 946.4,658.8 952.8,659.2 959.2,705.7 965.6,695.2" fill="none" stroke="#38cc38" stroke-width="1.1" stroke-linejoin="round"/>
<text x="1018" y="651.7" class="ax" text-anchor="end">2</text>
<text x="1018" y="681.4" class="ax" text-anchor="end">0</text>
<text x="1018" y="711.9" class="ax" text-anchor="end">-2</text>
<text x="1018" y="741.7" class="ax" text-anchor="end">-4</text>
<line x1="962.4" y1="397.2" x2="964.7" y2="397.2" stroke="#38cc38" stroke-width="1"/>
<rect x="971.6" y="368.8" width="47.8" height="13.2" fill="#fff" stroke="#601040" stroke-width="1.1"/>
<text x="1017.0" y="379.0" text-anchor="end" font-size="9.6" letter-spacing="0.4" fill="#d43a3a" class="bx">11232.56</text>
<rect x="971.6" y="389.7" width="47.8" height="13.2" fill="#fff" stroke="#40d040" stroke-width="1.1"/>
<text x="1017.0" y="399.9" text-anchor="end" font-size="9.6" letter-spacing="0.4" fill="#d43a3a" class="bx">11291.32</text>
<rect x="971.6" y="432.7" width="47.8" height="13.2" fill="#fff" stroke="#f0a050" stroke-width="1.1"/>
<text x="1017.0" y="442.9" text-anchor="end" font-size="9.6" letter-spacing="0.4" fill="#d43a3a" class="bx">10917.50</text>
<rect x="969.6" y="515.7" width="49.8" height="13.2" fill="#fff" stroke="#3a94c4" stroke-width="1.1"/>
<text x="1017.0" y="525.9000000000001" text-anchor="end" font-size="9.6" letter-spacing="0.4" fill="#d43a3a" class="bx">84070096</text>
<rect x="992.7" y="687" width="26.7" height="12.8" fill="#fff" stroke="#40d040" stroke-width="1.1"/>
<text x="1017.0000000000001" y="696.8" text-anchor="end" font-size="9.2" letter-spacing="0.4" fill="#3a74b4" class="bx">-3.67</text>
</g>
</svg>
<!-- Dostosuj panel -->
<div id="dost" class="abs">
  <div class="cap">Dostosuj</div>
  <div class="trk" style="top:22px"></div><div class="sb" style="left:8px;top:22px"><i></i></div><div class="sb" style="left:142px;top:22px"><i></i></div><div class="sb" style="left:104.5px;top:22px"></div>
  <div class="trk" style="top:36.5px"></div><div class="sb" style="left:8px;top:36.5px"><i></i></div><div class="sb" style="left:142px;top:36.5px"><i></i></div><div class="sb" style="left:125.5px;top:36.5px"></div>
  <div class="trk" style="top:51px"></div><div class="sb" style="left:8px;top:51px"><i></i></div><div class="sb" style="left:142px;top:51px"><i></i></div><div class="sb" style="left:115.700px;top:51px"></div>
</div>
<!-- status bar -->
<div id="statusbar" class="abs">
  <div class="sbp" style="left:9px;width:828px;padding-left:5.5px">Połączony...</div>
  <div class="sbp" style="left:839px;width:175px;text-align:center">DJIA</div>
</div>
</body>
</html>
